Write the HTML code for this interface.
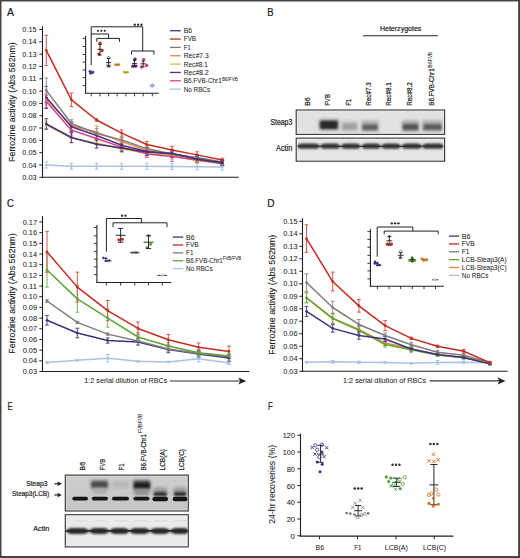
<!DOCTYPE html>
<html><head><meta charset="utf-8"><style>html,body{margin:0;padding:0;background:#fff;}svg{display:block}text{font-family:"Liberation Sans",sans-serif;stroke:#222;stroke-width:0.05px} .bd{stroke-width:0.22px} .md{stroke-width:0.12px}</style></head>
<body><svg width="520" height="558" viewBox="0 0 520 558">
<rect x="0" y="0" width="520" height="558" fill="#454545"/>
<rect x="1.5" y="1.5" width="516.6" height="554.5" fill="#ffffff"/>
<text x="7.1" y="15.85" font-size="10.8" fill="#222" textLength="7" lengthAdjust="spacingAndGlyphs" class="bd">A</text>
<text x="267.3" y="15.85" font-size="10.8" fill="#222" textLength="6.3" lengthAdjust="spacingAndGlyphs" class="bd">B</text>
<text x="7.1" y="206.8" font-size="10.8" fill="#222" textLength="6.9" lengthAdjust="spacingAndGlyphs" class="bd">C</text>
<text x="267.3" y="206.8" font-size="10.8" fill="#222" textLength="7.3" lengthAdjust="spacingAndGlyphs" class="bd">D</text>
<text x="7.6" y="410.4" font-size="10.8" fill="#222" textLength="5" lengthAdjust="spacingAndGlyphs" class="bd">E</text>
<text x="267.9" y="410.4" font-size="10.8" fill="#222" textLength="4.7" lengthAdjust="spacingAndGlyphs" class="bd">F</text>
<line x1="46.3" y1="161.9" x2="46.3" y2="168.06" stroke="#a9c3e6" stroke-width="1.0"/>
<line x1="44.4" y1="161.9" x2="48.2" y2="161.9" stroke="#a9c3e6" stroke-width="1.0"/>
<line x1="44.4" y1="168.06" x2="48.2" y2="168.06" stroke="#a9c3e6" stroke-width="1.0"/>
<line x1="71.43" y1="163.14" x2="71.43" y2="169.29" stroke="#a9c3e6" stroke-width="1.0"/>
<line x1="69.53" y1="163.14" x2="73.33" y2="163.14" stroke="#a9c3e6" stroke-width="1.0"/>
<line x1="69.53" y1="169.29" x2="73.33" y2="169.29" stroke="#a9c3e6" stroke-width="1.0"/>
<line x1="96.56" y1="163.14" x2="96.56" y2="169.29" stroke="#a9c3e6" stroke-width="1.0"/>
<line x1="94.66" y1="163.14" x2="98.46" y2="163.14" stroke="#a9c3e6" stroke-width="1.0"/>
<line x1="94.66" y1="169.29" x2="98.46" y2="169.29" stroke="#a9c3e6" stroke-width="1.0"/>
<line x1="121.69" y1="163.14" x2="121.69" y2="169.29" stroke="#a9c3e6" stroke-width="1.0"/>
<line x1="119.79" y1="163.14" x2="123.59" y2="163.14" stroke="#a9c3e6" stroke-width="1.0"/>
<line x1="119.79" y1="169.29" x2="123.59" y2="169.29" stroke="#a9c3e6" stroke-width="1.0"/>
<line x1="146.82" y1="163.14" x2="146.82" y2="169.29" stroke="#a9c3e6" stroke-width="1.0"/>
<line x1="144.92" y1="163.14" x2="148.72" y2="163.14" stroke="#a9c3e6" stroke-width="1.0"/>
<line x1="144.92" y1="169.29" x2="148.72" y2="169.29" stroke="#a9c3e6" stroke-width="1.0"/>
<line x1="171.95" y1="163.38" x2="171.95" y2="169.54" stroke="#a9c3e6" stroke-width="1.0"/>
<line x1="170.05" y1="163.38" x2="173.85" y2="163.38" stroke="#a9c3e6" stroke-width="1.0"/>
<line x1="170.05" y1="169.54" x2="173.85" y2="169.54" stroke="#a9c3e6" stroke-width="1.0"/>
<line x1="197.08" y1="163.63" x2="197.08" y2="169.79" stroke="#a9c3e6" stroke-width="1.0"/>
<line x1="195.18" y1="163.63" x2="198.98" y2="163.63" stroke="#a9c3e6" stroke-width="1.0"/>
<line x1="195.18" y1="169.79" x2="198.98" y2="169.79" stroke="#a9c3e6" stroke-width="1.0"/>
<line x1="222.21" y1="163.87" x2="222.21" y2="170.03" stroke="#a9c3e6" stroke-width="1.0"/>
<line x1="220.31" y1="163.87" x2="224.11" y2="163.87" stroke="#a9c3e6" stroke-width="1.0"/>
<line x1="220.31" y1="170.03" x2="224.11" y2="170.03" stroke="#a9c3e6" stroke-width="1.0"/>
<line x1="46.3" y1="121.26" x2="46.3" y2="128.65" stroke="#d8ca60" stroke-width="1.0"/>
<line x1="44.4" y1="121.26" x2="48.2" y2="121.26" stroke="#d8ca60" stroke-width="1.0"/>
<line x1="44.4" y1="128.65" x2="48.2" y2="128.65" stroke="#d8ca60" stroke-width="1.0"/>
<line x1="71.43" y1="133.21" x2="71.43" y2="143.06" stroke="#d8ca60" stroke-width="1.0"/>
<line x1="69.53" y1="133.21" x2="73.33" y2="133.21" stroke="#d8ca60" stroke-width="1.0"/>
<line x1="69.53" y1="143.06" x2="73.33" y2="143.06" stroke="#d8ca60" stroke-width="1.0"/>
<line x1="96.56" y1="138.13" x2="96.56" y2="147.99" stroke="#d8ca60" stroke-width="1.0"/>
<line x1="94.66" y1="138.13" x2="98.46" y2="138.13" stroke="#d8ca60" stroke-width="1.0"/>
<line x1="94.66" y1="147.99" x2="98.46" y2="147.99" stroke="#d8ca60" stroke-width="1.0"/>
<line x1="121.69" y1="145.28" x2="121.69" y2="152.67" stroke="#d8ca60" stroke-width="1.0"/>
<line x1="119.79" y1="145.28" x2="123.59" y2="145.28" stroke="#d8ca60" stroke-width="1.0"/>
<line x1="119.79" y1="152.67" x2="123.59" y2="152.67" stroke="#d8ca60" stroke-width="1.0"/>
<line x1="146.82" y1="150.82" x2="146.82" y2="155.75" stroke="#d8ca60" stroke-width="1.0"/>
<line x1="144.92" y1="150.82" x2="148.72" y2="150.82" stroke="#d8ca60" stroke-width="1.0"/>
<line x1="144.92" y1="155.75" x2="148.72" y2="155.75" stroke="#d8ca60" stroke-width="1.0"/>
<line x1="171.95" y1="151.68" x2="171.95" y2="159.07" stroke="#d8ca60" stroke-width="1.0"/>
<line x1="170.05" y1="151.68" x2="173.85" y2="151.68" stroke="#d8ca60" stroke-width="1.0"/>
<line x1="170.05" y1="159.07" x2="173.85" y2="159.07" stroke="#d8ca60" stroke-width="1.0"/>
<line x1="197.08" y1="158.21" x2="197.08" y2="163.14" stroke="#d8ca60" stroke-width="1.0"/>
<line x1="195.18" y1="158.21" x2="198.98" y2="158.21" stroke="#d8ca60" stroke-width="1.0"/>
<line x1="195.18" y1="163.14" x2="198.98" y2="163.14" stroke="#d8ca60" stroke-width="1.0"/>
<line x1="222.21" y1="161.29" x2="222.21" y2="166.21" stroke="#d8ca60" stroke-width="1.0"/>
<line x1="220.31" y1="161.29" x2="224.11" y2="161.29" stroke="#d8ca60" stroke-width="1.0"/>
<line x1="220.31" y1="166.21" x2="224.11" y2="166.21" stroke="#d8ca60" stroke-width="1.0"/>
<line x1="46.3" y1="95.39" x2="46.3" y2="107.71" stroke="#d868a0" stroke-width="1.0"/>
<line x1="44.4" y1="95.39" x2="48.2" y2="95.39" stroke="#d868a0" stroke-width="1.0"/>
<line x1="44.4" y1="107.71" x2="48.2" y2="107.71" stroke="#d868a0" stroke-width="1.0"/>
<line x1="71.43" y1="125.2" x2="71.43" y2="135.05" stroke="#d868a0" stroke-width="1.0"/>
<line x1="69.53" y1="125.2" x2="73.33" y2="125.2" stroke="#d868a0" stroke-width="1.0"/>
<line x1="69.53" y1="135.05" x2="73.33" y2="135.05" stroke="#d868a0" stroke-width="1.0"/>
<line x1="96.56" y1="133.57" x2="96.56" y2="143.43" stroke="#d868a0" stroke-width="1.0"/>
<line x1="94.66" y1="133.57" x2="98.46" y2="133.57" stroke="#d868a0" stroke-width="1.0"/>
<line x1="94.66" y1="143.43" x2="98.46" y2="143.43" stroke="#d868a0" stroke-width="1.0"/>
<line x1="121.69" y1="143.43" x2="121.69" y2="150.82" stroke="#d868a0" stroke-width="1.0"/>
<line x1="119.79" y1="143.43" x2="123.59" y2="143.43" stroke="#d868a0" stroke-width="1.0"/>
<line x1="119.79" y1="150.82" x2="123.59" y2="150.82" stroke="#d868a0" stroke-width="1.0"/>
<line x1="146.82" y1="150.2" x2="146.82" y2="157.59" stroke="#d868a0" stroke-width="1.0"/>
<line x1="144.92" y1="150.2" x2="148.72" y2="150.2" stroke="#d868a0" stroke-width="1.0"/>
<line x1="144.92" y1="157.59" x2="148.72" y2="157.59" stroke="#d868a0" stroke-width="1.0"/>
<line x1="171.95" y1="151.68" x2="171.95" y2="161.53" stroke="#d868a0" stroke-width="1.0"/>
<line x1="170.05" y1="151.68" x2="173.85" y2="151.68" stroke="#d868a0" stroke-width="1.0"/>
<line x1="170.05" y1="161.53" x2="173.85" y2="161.53" stroke="#d868a0" stroke-width="1.0"/>
<line x1="197.08" y1="157.59" x2="197.08" y2="162.52" stroke="#d868a0" stroke-width="1.0"/>
<line x1="195.18" y1="157.59" x2="198.98" y2="157.59" stroke="#d868a0" stroke-width="1.0"/>
<line x1="195.18" y1="162.52" x2="198.98" y2="162.52" stroke="#d868a0" stroke-width="1.0"/>
<line x1="222.21" y1="160.67" x2="222.21" y2="165.6" stroke="#d868a0" stroke-width="1.0"/>
<line x1="220.31" y1="160.67" x2="224.11" y2="160.67" stroke="#d868a0" stroke-width="1.0"/>
<line x1="220.31" y1="165.6" x2="224.11" y2="165.6" stroke="#d868a0" stroke-width="1.0"/>
<line x1="46.3" y1="94.16" x2="46.3" y2="104.01" stroke="#e4a060" stroke-width="1.0"/>
<line x1="44.4" y1="94.16" x2="48.2" y2="94.16" stroke="#e4a060" stroke-width="1.0"/>
<line x1="44.4" y1="104.01" x2="48.2" y2="104.01" stroke="#e4a060" stroke-width="1.0"/>
<line x1="71.43" y1="122.12" x2="71.43" y2="129.51" stroke="#e4a060" stroke-width="1.0"/>
<line x1="69.53" y1="122.12" x2="73.33" y2="122.12" stroke="#e4a060" stroke-width="1.0"/>
<line x1="69.53" y1="129.51" x2="73.33" y2="129.51" stroke="#e4a060" stroke-width="1.0"/>
<line x1="96.56" y1="125.94" x2="96.56" y2="138.26" stroke="#e4a060" stroke-width="1.0"/>
<line x1="94.66" y1="125.94" x2="98.46" y2="125.94" stroke="#e4a060" stroke-width="1.0"/>
<line x1="94.66" y1="138.26" x2="98.46" y2="138.26" stroke="#e4a060" stroke-width="1.0"/>
<line x1="121.69" y1="137.89" x2="121.69" y2="145.28" stroke="#e4a060" stroke-width="1.0"/>
<line x1="119.79" y1="137.89" x2="123.59" y2="137.89" stroke="#e4a060" stroke-width="1.0"/>
<line x1="119.79" y1="145.28" x2="123.59" y2="145.28" stroke="#e4a060" stroke-width="1.0"/>
<line x1="146.82" y1="147.74" x2="146.82" y2="152.67" stroke="#e4a060" stroke-width="1.0"/>
<line x1="144.92" y1="147.74" x2="148.72" y2="147.74" stroke="#e4a060" stroke-width="1.0"/>
<line x1="144.92" y1="152.67" x2="148.72" y2="152.67" stroke="#e4a060" stroke-width="1.0"/>
<line x1="171.95" y1="152.05" x2="171.95" y2="156.98" stroke="#e4a060" stroke-width="1.0"/>
<line x1="170.05" y1="152.05" x2="173.85" y2="152.05" stroke="#e4a060" stroke-width="1.0"/>
<line x1="170.05" y1="156.98" x2="173.85" y2="156.98" stroke="#e4a060" stroke-width="1.0"/>
<line x1="197.08" y1="156.36" x2="197.08" y2="161.29" stroke="#e4a060" stroke-width="1.0"/>
<line x1="195.18" y1="156.36" x2="198.98" y2="156.36" stroke="#e4a060" stroke-width="1.0"/>
<line x1="195.18" y1="161.29" x2="198.98" y2="161.29" stroke="#e4a060" stroke-width="1.0"/>
<line x1="222.21" y1="160.06" x2="222.21" y2="164.98" stroke="#e4a060" stroke-width="1.0"/>
<line x1="220.31" y1="160.06" x2="224.11" y2="160.06" stroke="#e4a060" stroke-width="1.0"/>
<line x1="220.31" y1="164.98" x2="224.11" y2="164.98" stroke="#e4a060" stroke-width="1.0"/>
<line x1="46.3" y1="86.4" x2="46.3" y2="108.57" stroke="#7048a0" stroke-width="1.0"/>
<line x1="44.4" y1="86.4" x2="48.2" y2="86.4" stroke="#7048a0" stroke-width="1.0"/>
<line x1="44.4" y1="108.57" x2="48.2" y2="108.57" stroke="#7048a0" stroke-width="1.0"/>
<line x1="71.43" y1="121.75" x2="71.43" y2="131.6" stroke="#7048a0" stroke-width="1.0"/>
<line x1="69.53" y1="121.75" x2="73.33" y2="121.75" stroke="#7048a0" stroke-width="1.0"/>
<line x1="69.53" y1="131.6" x2="73.33" y2="131.6" stroke="#7048a0" stroke-width="1.0"/>
<line x1="96.56" y1="131.85" x2="96.56" y2="139.24" stroke="#7048a0" stroke-width="1.0"/>
<line x1="94.66" y1="131.85" x2="98.46" y2="131.85" stroke="#7048a0" stroke-width="1.0"/>
<line x1="94.66" y1="139.24" x2="98.46" y2="139.24" stroke="#7048a0" stroke-width="1.0"/>
<line x1="121.69" y1="141.58" x2="121.69" y2="148.97" stroke="#7048a0" stroke-width="1.0"/>
<line x1="119.79" y1="141.58" x2="123.59" y2="141.58" stroke="#7048a0" stroke-width="1.0"/>
<line x1="119.79" y1="148.97" x2="123.59" y2="148.97" stroke="#7048a0" stroke-width="1.0"/>
<line x1="146.82" y1="147.74" x2="146.82" y2="155.13" stroke="#7048a0" stroke-width="1.0"/>
<line x1="144.92" y1="147.74" x2="148.72" y2="147.74" stroke="#7048a0" stroke-width="1.0"/>
<line x1="144.92" y1="155.13" x2="148.72" y2="155.13" stroke="#7048a0" stroke-width="1.0"/>
<line x1="171.95" y1="150.2" x2="171.95" y2="157.59" stroke="#7048a0" stroke-width="1.0"/>
<line x1="170.05" y1="150.2" x2="173.85" y2="150.2" stroke="#7048a0" stroke-width="1.0"/>
<line x1="170.05" y1="157.59" x2="173.85" y2="157.59" stroke="#7048a0" stroke-width="1.0"/>
<line x1="197.08" y1="155.75" x2="197.08" y2="160.67" stroke="#7048a0" stroke-width="1.0"/>
<line x1="195.18" y1="155.75" x2="198.98" y2="155.75" stroke="#7048a0" stroke-width="1.0"/>
<line x1="195.18" y1="160.67" x2="198.98" y2="160.67" stroke="#7048a0" stroke-width="1.0"/>
<line x1="222.21" y1="160.67" x2="222.21" y2="165.6" stroke="#7048a0" stroke-width="1.0"/>
<line x1="220.31" y1="160.67" x2="224.11" y2="160.67" stroke="#7048a0" stroke-width="1.0"/>
<line x1="220.31" y1="165.6" x2="224.11" y2="165.6" stroke="#7048a0" stroke-width="1.0"/>
<line x1="46.3" y1="78.02" x2="46.3" y2="102.66" stroke="#909090" stroke-width="1.0"/>
<line x1="44.4" y1="78.02" x2="48.2" y2="78.02" stroke="#909090" stroke-width="1.0"/>
<line x1="44.4" y1="102.66" x2="48.2" y2="102.66" stroke="#909090" stroke-width="1.0"/>
<line x1="71.43" y1="119.78" x2="71.43" y2="127.17" stroke="#909090" stroke-width="1.0"/>
<line x1="69.53" y1="119.78" x2="73.33" y2="119.78" stroke="#909090" stroke-width="1.0"/>
<line x1="69.53" y1="127.17" x2="73.33" y2="127.17" stroke="#909090" stroke-width="1.0"/>
<line x1="96.56" y1="128.65" x2="96.56" y2="138.5" stroke="#909090" stroke-width="1.0"/>
<line x1="94.66" y1="128.65" x2="98.46" y2="128.65" stroke="#909090" stroke-width="1.0"/>
<line x1="94.66" y1="138.5" x2="98.46" y2="138.5" stroke="#909090" stroke-width="1.0"/>
<line x1="121.69" y1="137.39" x2="121.69" y2="142.32" stroke="#909090" stroke-width="1.0"/>
<line x1="119.79" y1="137.39" x2="123.59" y2="137.39" stroke="#909090" stroke-width="1.0"/>
<line x1="119.79" y1="142.32" x2="123.59" y2="142.32" stroke="#909090" stroke-width="1.0"/>
<line x1="146.82" y1="146.14" x2="146.82" y2="151.06" stroke="#909090" stroke-width="1.0"/>
<line x1="144.92" y1="146.14" x2="148.72" y2="146.14" stroke="#909090" stroke-width="1.0"/>
<line x1="144.92" y1="151.06" x2="148.72" y2="151.06" stroke="#909090" stroke-width="1.0"/>
<line x1="171.95" y1="151.43" x2="171.95" y2="156.36" stroke="#909090" stroke-width="1.0"/>
<line x1="170.05" y1="151.43" x2="173.85" y2="151.43" stroke="#909090" stroke-width="1.0"/>
<line x1="170.05" y1="156.36" x2="173.85" y2="156.36" stroke="#909090" stroke-width="1.0"/>
<line x1="197.08" y1="155.13" x2="197.08" y2="160.06" stroke="#909090" stroke-width="1.0"/>
<line x1="195.18" y1="155.13" x2="198.98" y2="155.13" stroke="#909090" stroke-width="1.0"/>
<line x1="195.18" y1="160.06" x2="198.98" y2="160.06" stroke="#909090" stroke-width="1.0"/>
<line x1="222.21" y1="159.44" x2="222.21" y2="164.37" stroke="#909090" stroke-width="1.0"/>
<line x1="220.31" y1="159.44" x2="224.11" y2="159.44" stroke="#909090" stroke-width="1.0"/>
<line x1="220.31" y1="164.37" x2="224.11" y2="164.37" stroke="#909090" stroke-width="1.0"/>
<line x1="46.3" y1="118.67" x2="46.3" y2="129.26" stroke="#54468e" stroke-width="1.0"/>
<line x1="44.4" y1="118.67" x2="48.2" y2="118.67" stroke="#54468e" stroke-width="1.0"/>
<line x1="44.4" y1="129.26" x2="48.2" y2="129.26" stroke="#54468e" stroke-width="1.0"/>
<line x1="71.43" y1="132.59" x2="71.43" y2="142.44" stroke="#54468e" stroke-width="1.0"/>
<line x1="69.53" y1="132.59" x2="73.33" y2="132.59" stroke="#54468e" stroke-width="1.0"/>
<line x1="69.53" y1="142.44" x2="73.33" y2="142.44" stroke="#54468e" stroke-width="1.0"/>
<line x1="96.56" y1="140.6" x2="96.56" y2="147.99" stroke="#54468e" stroke-width="1.0"/>
<line x1="94.66" y1="140.6" x2="98.46" y2="140.6" stroke="#54468e" stroke-width="1.0"/>
<line x1="94.66" y1="147.99" x2="98.46" y2="147.99" stroke="#54468e" stroke-width="1.0"/>
<line x1="121.69" y1="144.29" x2="121.69" y2="151.68" stroke="#54468e" stroke-width="1.0"/>
<line x1="119.79" y1="144.29" x2="123.59" y2="144.29" stroke="#54468e" stroke-width="1.0"/>
<line x1="119.79" y1="151.68" x2="123.59" y2="151.68" stroke="#54468e" stroke-width="1.0"/>
<line x1="146.82" y1="148.23" x2="146.82" y2="155.62" stroke="#54468e" stroke-width="1.0"/>
<line x1="144.92" y1="148.23" x2="148.72" y2="148.23" stroke="#54468e" stroke-width="1.0"/>
<line x1="144.92" y1="155.62" x2="148.72" y2="155.62" stroke="#54468e" stroke-width="1.0"/>
<line x1="171.95" y1="149.59" x2="171.95" y2="156.98" stroke="#54468e" stroke-width="1.0"/>
<line x1="170.05" y1="149.59" x2="173.85" y2="149.59" stroke="#54468e" stroke-width="1.0"/>
<line x1="170.05" y1="156.98" x2="173.85" y2="156.98" stroke="#54468e" stroke-width="1.0"/>
<line x1="197.08" y1="156.85" x2="197.08" y2="161.78" stroke="#54468e" stroke-width="1.0"/>
<line x1="195.18" y1="156.85" x2="198.98" y2="156.85" stroke="#54468e" stroke-width="1.0"/>
<line x1="195.18" y1="161.78" x2="198.98" y2="161.78" stroke="#54468e" stroke-width="1.0"/>
<line x1="222.21" y1="159.93" x2="222.21" y2="164.86" stroke="#54468e" stroke-width="1.0"/>
<line x1="220.31" y1="159.93" x2="224.11" y2="159.93" stroke="#54468e" stroke-width="1.0"/>
<line x1="220.31" y1="164.86" x2="224.11" y2="164.86" stroke="#54468e" stroke-width="1.0"/>
<line x1="46.3" y1="35.28" x2="46.3" y2="65.58" stroke="#d05a50" stroke-width="1.0"/>
<line x1="44.4" y1="35.28" x2="48.2" y2="35.28" stroke="#d05a50" stroke-width="1.0"/>
<line x1="44.4" y1="65.58" x2="48.2" y2="65.58" stroke="#d05a50" stroke-width="1.0"/>
<line x1="71.43" y1="93.05" x2="71.43" y2="106.6" stroke="#d05a50" stroke-width="1.0"/>
<line x1="69.53" y1="93.05" x2="73.33" y2="93.05" stroke="#d05a50" stroke-width="1.0"/>
<line x1="69.53" y1="106.6" x2="73.33" y2="106.6" stroke="#d05a50" stroke-width="1.0"/>
<line x1="96.56" y1="118.79" x2="96.56" y2="121.26" stroke="#d05a50" stroke-width="1.0"/>
<line x1="94.66" y1="118.79" x2="98.46" y2="118.79" stroke="#d05a50" stroke-width="1.0"/>
<line x1="94.66" y1="121.26" x2="98.46" y2="121.26" stroke="#d05a50" stroke-width="1.0"/>
<line x1="121.69" y1="130" x2="121.69" y2="136.16" stroke="#d05a50" stroke-width="1.0"/>
<line x1="119.79" y1="130" x2="123.59" y2="130" stroke="#d05a50" stroke-width="1.0"/>
<line x1="119.79" y1="136.16" x2="123.59" y2="136.16" stroke="#d05a50" stroke-width="1.0"/>
<line x1="146.82" y1="141.46" x2="146.82" y2="147.62" stroke="#d05a50" stroke-width="1.0"/>
<line x1="144.92" y1="141.46" x2="148.72" y2="141.46" stroke="#d05a50" stroke-width="1.0"/>
<line x1="144.92" y1="147.62" x2="148.72" y2="147.62" stroke="#d05a50" stroke-width="1.0"/>
<line x1="171.95" y1="146.26" x2="171.95" y2="153.65" stroke="#d05a50" stroke-width="1.0"/>
<line x1="170.05" y1="146.26" x2="173.85" y2="146.26" stroke="#d05a50" stroke-width="1.0"/>
<line x1="170.05" y1="153.65" x2="173.85" y2="153.65" stroke="#d05a50" stroke-width="1.0"/>
<line x1="197.08" y1="151.8" x2="197.08" y2="157.96" stroke="#d05a50" stroke-width="1.0"/>
<line x1="195.18" y1="151.8" x2="198.98" y2="151.8" stroke="#d05a50" stroke-width="1.0"/>
<line x1="195.18" y1="157.96" x2="198.98" y2="157.96" stroke="#d05a50" stroke-width="1.0"/>
<line x1="222.21" y1="158.21" x2="222.21" y2="161.9" stroke="#d05a50" stroke-width="1.0"/>
<line x1="220.31" y1="158.21" x2="224.11" y2="158.21" stroke="#d05a50" stroke-width="1.0"/>
<line x1="220.31" y1="161.9" x2="224.11" y2="161.9" stroke="#d05a50" stroke-width="1.0"/>
<polyline fill="none" stroke="#a9c3e6" stroke-width="1.5" stroke-linejoin="round" points="46.3,164.98 71.43,166.21 96.56,166.21 121.69,166.21 146.82,166.21 171.95,166.46 197.08,166.71 222.21,166.95"/>
<circle cx="46.3" cy="164.98" r="1.35" fill="#a9c3e6"/>
<circle cx="71.43" cy="166.21" r="1.35" fill="#a9c3e6"/>
<circle cx="96.56" cy="166.21" r="1.35" fill="#a9c3e6"/>
<circle cx="121.69" cy="166.21" r="1.35" fill="#a9c3e6"/>
<circle cx="146.82" cy="166.21" r="1.35" fill="#a9c3e6"/>
<circle cx="171.95" cy="166.46" r="1.35" fill="#a9c3e6"/>
<circle cx="197.08" cy="166.71" r="1.35" fill="#a9c3e6"/>
<circle cx="222.21" cy="166.95" r="1.35" fill="#a9c3e6"/>
<polyline fill="none" stroke="#d2c240" stroke-width="1.5" stroke-linejoin="round" points="46.3,124.95 71.43,138.13 96.56,143.06 121.69,148.97 146.82,153.28 171.95,155.38 197.08,160.67 222.21,163.75"/>
<circle cx="46.3" cy="124.95" r="1.35" fill="#d2c240"/>
<circle cx="71.43" cy="138.13" r="1.35" fill="#d2c240"/>
<circle cx="96.56" cy="143.06" r="1.35" fill="#d2c240"/>
<circle cx="121.69" cy="148.97" r="1.35" fill="#d2c240"/>
<circle cx="146.82" cy="153.28" r="1.35" fill="#d2c240"/>
<circle cx="171.95" cy="155.38" r="1.35" fill="#d2c240"/>
<circle cx="197.08" cy="160.67" r="1.35" fill="#d2c240"/>
<circle cx="222.21" cy="163.75" r="1.35" fill="#d2c240"/>
<polyline fill="none" stroke="#d2428a" stroke-width="1.5" stroke-linejoin="round" points="46.3,101.55 71.43,130.13 96.56,138.5 121.69,147.12 146.82,153.9 171.95,156.61 197.08,160.06 222.21,163.14"/>
<circle cx="46.3" cy="101.55" r="1.35" fill="#d2428a"/>
<circle cx="71.43" cy="130.13" r="1.35" fill="#d2428a"/>
<circle cx="96.56" cy="138.5" r="1.35" fill="#d2428a"/>
<circle cx="121.69" cy="147.12" r="1.35" fill="#d2428a"/>
<circle cx="146.82" cy="153.9" r="1.35" fill="#d2428a"/>
<circle cx="171.95" cy="156.61" r="1.35" fill="#d2428a"/>
<circle cx="197.08" cy="160.06" r="1.35" fill="#d2428a"/>
<circle cx="222.21" cy="163.14" r="1.35" fill="#d2428a"/>
<polyline fill="none" stroke="#e08c3c" stroke-width="1.5" stroke-linejoin="round" points="46.3,99.09 71.43,125.81 96.56,132.1 121.69,141.58 146.82,150.2 171.95,154.51 197.08,158.82 222.21,162.52"/>
<circle cx="46.3" cy="99.09" r="1.35" fill="#e08c3c"/>
<circle cx="71.43" cy="125.81" r="1.35" fill="#e08c3c"/>
<circle cx="96.56" cy="132.1" r="1.35" fill="#e08c3c"/>
<circle cx="121.69" cy="141.58" r="1.35" fill="#e08c3c"/>
<circle cx="146.82" cy="150.2" r="1.35" fill="#e08c3c"/>
<circle cx="171.95" cy="154.51" r="1.35" fill="#e08c3c"/>
<circle cx="197.08" cy="158.82" r="1.35" fill="#e08c3c"/>
<circle cx="222.21" cy="162.52" r="1.35" fill="#e08c3c"/>
<polyline fill="none" stroke="#5c2c82" stroke-width="1.5" stroke-linejoin="round" points="46.3,97.49 71.43,126.68 96.56,135.55 121.69,145.28 146.82,151.43 171.95,153.9 197.08,158.21 222.21,163.14"/>
<circle cx="46.3" cy="97.49" r="1.35" fill="#5c2c82"/>
<circle cx="71.43" cy="126.68" r="1.35" fill="#5c2c82"/>
<circle cx="96.56" cy="135.55" r="1.35" fill="#5c2c82"/>
<circle cx="121.69" cy="145.28" r="1.35" fill="#5c2c82"/>
<circle cx="146.82" cy="151.43" r="1.35" fill="#5c2c82"/>
<circle cx="171.95" cy="153.9" r="1.35" fill="#5c2c82"/>
<circle cx="197.08" cy="158.21" r="1.35" fill="#5c2c82"/>
<circle cx="222.21" cy="163.14" r="1.35" fill="#5c2c82"/>
<polyline fill="none" stroke="#7d7d7d" stroke-width="1.5" stroke-linejoin="round" points="46.3,90.34 71.43,123.47 96.56,133.57 121.69,139.86 146.82,148.6 171.95,153.9 197.08,157.59 222.21,161.9"/>
<circle cx="46.3" cy="90.34" r="1.35" fill="#7d7d7d"/>
<circle cx="71.43" cy="123.47" r="1.35" fill="#7d7d7d"/>
<circle cx="96.56" cy="133.57" r="1.35" fill="#7d7d7d"/>
<circle cx="121.69" cy="139.86" r="1.35" fill="#7d7d7d"/>
<circle cx="146.82" cy="148.6" r="1.35" fill="#7d7d7d"/>
<circle cx="171.95" cy="153.9" r="1.35" fill="#7d7d7d"/>
<circle cx="197.08" cy="157.59" r="1.35" fill="#7d7d7d"/>
<circle cx="222.21" cy="161.9" r="1.35" fill="#7d7d7d"/>
<polyline fill="none" stroke="#42327e" stroke-width="1.5" stroke-linejoin="round" points="46.3,123.97 71.43,137.52 96.56,144.29 121.69,147.99 146.82,151.93 171.95,153.28 197.08,159.32 222.21,162.4"/>
<circle cx="46.3" cy="123.97" r="1.35" fill="#42327e"/>
<circle cx="71.43" cy="137.52" r="1.35" fill="#42327e"/>
<circle cx="96.56" cy="144.29" r="1.35" fill="#42327e"/>
<circle cx="121.69" cy="147.99" r="1.35" fill="#42327e"/>
<circle cx="146.82" cy="151.93" r="1.35" fill="#42327e"/>
<circle cx="171.95" cy="153.28" r="1.35" fill="#42327e"/>
<circle cx="197.08" cy="159.32" r="1.35" fill="#42327e"/>
<circle cx="222.21" cy="162.4" r="1.35" fill="#42327e"/>
<polyline fill="none" stroke="#c42c20" stroke-width="1.5" stroke-linejoin="round" points="46.3,50.43 71.43,99.83 96.56,120.03 121.69,133.08 146.82,144.54 171.95,149.96 197.08,154.88 222.21,160.06"/>
<circle cx="46.3" cy="50.43" r="1.35" fill="#c42c20"/>
<circle cx="71.43" cy="99.83" r="1.35" fill="#c42c20"/>
<circle cx="96.56" cy="120.03" r="1.35" fill="#c42c20"/>
<circle cx="121.69" cy="133.08" r="1.35" fill="#c42c20"/>
<circle cx="146.82" cy="144.54" r="1.35" fill="#c42c20"/>
<circle cx="171.95" cy="149.96" r="1.35" fill="#c42c20"/>
<circle cx="197.08" cy="154.88" r="1.35" fill="#c42c20"/>
<circle cx="222.21" cy="160.06" r="1.35" fill="#c42c20"/>
<line x1="42.5" y1="26.3" x2="42.5" y2="177.85" stroke="#1e1e1e" stroke-width="1.1"/>
<line x1="41.95" y1="177.3" x2="238.8" y2="177.3" stroke="#1e1e1e" stroke-width="1.1"/>
<line x1="39.3" y1="177.3" x2="42.5" y2="177.3" stroke="#222" stroke-width="1"/>
<text x="36.6" y="179.9" font-size="7.9" fill="#222" text-anchor="end" textLength="14.3" lengthAdjust="spacingAndGlyphs">0.03</text>
<line x1="39.3" y1="164.98" x2="42.5" y2="164.98" stroke="#222" stroke-width="1"/>
<text x="36.6" y="167.58" font-size="7.9" fill="#222" text-anchor="end" textLength="14.3" lengthAdjust="spacingAndGlyphs">0.04</text>
<line x1="39.3" y1="152.67" x2="42.5" y2="152.67" stroke="#222" stroke-width="1"/>
<text x="36.6" y="155.27" font-size="7.9" fill="#222" text-anchor="end" textLength="14.3" lengthAdjust="spacingAndGlyphs">0.05</text>
<line x1="39.3" y1="140.35" x2="42.5" y2="140.35" stroke="#222" stroke-width="1"/>
<text x="36.6" y="142.95" font-size="7.9" fill="#222" text-anchor="end" textLength="14.3" lengthAdjust="spacingAndGlyphs">0.06</text>
<line x1="39.3" y1="128.03" x2="42.5" y2="128.03" stroke="#222" stroke-width="1"/>
<text x="36.6" y="130.63" font-size="7.9" fill="#222" text-anchor="end" textLength="14.3" lengthAdjust="spacingAndGlyphs">0.07</text>
<line x1="39.3" y1="115.72" x2="42.5" y2="115.72" stroke="#222" stroke-width="1"/>
<text x="36.6" y="118.31" font-size="7.9" fill="#222" text-anchor="end" textLength="14.3" lengthAdjust="spacingAndGlyphs">0.08</text>
<line x1="39.3" y1="103.4" x2="42.5" y2="103.4" stroke="#222" stroke-width="1"/>
<text x="36.6" y="106" font-size="7.9" fill="#222" text-anchor="end" textLength="14.3" lengthAdjust="spacingAndGlyphs">0.09</text>
<line x1="39.3" y1="91.08" x2="42.5" y2="91.08" stroke="#222" stroke-width="1"/>
<text x="36.6" y="93.68" font-size="7.9" fill="#222" text-anchor="end" textLength="14.3" lengthAdjust="spacingAndGlyphs">0.10</text>
<line x1="39.3" y1="78.76" x2="42.5" y2="78.76" stroke="#222" stroke-width="1"/>
<text x="36.6" y="81.36" font-size="7.9" fill="#222" text-anchor="end" textLength="14.3" lengthAdjust="spacingAndGlyphs">0.11</text>
<line x1="39.3" y1="66.45" x2="42.5" y2="66.45" stroke="#222" stroke-width="1"/>
<text x="36.6" y="69.05" font-size="7.9" fill="#222" text-anchor="end" textLength="14.3" lengthAdjust="spacingAndGlyphs">0.12</text>
<line x1="39.3" y1="54.13" x2="42.5" y2="54.13" stroke="#222" stroke-width="1"/>
<text x="36.6" y="56.73" font-size="7.9" fill="#222" text-anchor="end" textLength="14.3" lengthAdjust="spacingAndGlyphs">0.13</text>
<line x1="39.3" y1="41.81" x2="42.5" y2="41.81" stroke="#222" stroke-width="1"/>
<text x="36.6" y="44.41" font-size="7.9" fill="#222" text-anchor="end" textLength="14.3" lengthAdjust="spacingAndGlyphs">0.14</text>
<line x1="39.3" y1="29.5" x2="42.5" y2="29.5" stroke="#222" stroke-width="1"/>
<text x="36.6" y="32.1" font-size="7.9" fill="#222" text-anchor="end" textLength="14.3" lengthAdjust="spacingAndGlyphs">0.15</text>
<text x="15.1" y="102.05" font-size="9.4" fill="#222" text-anchor="middle" textLength="119.7" lengthAdjust="spacingAndGlyphs" transform="rotate(-90 15.1 102.05)" class="md">Ferrozine activity (Abs 562nm)</text>
<line x1="85.6" y1="35.8" x2="85.6" y2="93.8" stroke="#222" stroke-width="1.1"/>
<line x1="85.1" y1="93.3" x2="158.7" y2="93.3" stroke="#222" stroke-width="1.1"/>
<line x1="82.6" y1="38.4" x2="85.6" y2="38.4" stroke="#222" stroke-width="0.9"/>
<line x1="82.6" y1="46.5" x2="85.6" y2="46.5" stroke="#222" stroke-width="0.9"/>
<line x1="82.6" y1="54.5" x2="85.6" y2="54.5" stroke="#222" stroke-width="0.9"/>
<line x1="82.6" y1="62.1" x2="85.6" y2="62.1" stroke="#222" stroke-width="0.9"/>
<line x1="82.6" y1="70" x2="85.6" y2="70" stroke="#222" stroke-width="0.9"/>
<line x1="82.6" y1="77.6" x2="85.6" y2="77.6" stroke="#222" stroke-width="0.9"/>
<line x1="82.6" y1="85.6" x2="85.6" y2="85.6" stroke="#222" stroke-width="0.9"/>
<line x1="91.2" y1="93.3" x2="91.2" y2="96.3" stroke="#222" stroke-width="0.9"/>
<line x1="99.9" y1="93.3" x2="99.9" y2="96.3" stroke="#222" stroke-width="0.9"/>
<line x1="108.6" y1="93.3" x2="108.6" y2="96.3" stroke="#222" stroke-width="0.9"/>
<line x1="117.2" y1="93.3" x2="117.2" y2="96.3" stroke="#222" stroke-width="0.9"/>
<line x1="125.9" y1="93.3" x2="125.9" y2="96.3" stroke="#222" stroke-width="0.9"/>
<line x1="134.5" y1="93.3" x2="134.5" y2="96.3" stroke="#222" stroke-width="0.9"/>
<line x1="143.2" y1="93.3" x2="143.2" y2="96.3" stroke="#222" stroke-width="0.9"/>
<line x1="152.3" y1="93.3" x2="152.3" y2="96.3" stroke="#222" stroke-width="0.9"/>
<polyline fill="none" stroke="#222" stroke-width="1" points="91.2,65.2 91.2,26.8 142.7,26.8 142.7,51"/>
<polyline fill="none" stroke="#222" stroke-width="1" points="131.6,54.5 131.6,51 154,51 154,54.5"/>
<polyline fill="none" stroke="#222" stroke-width="1" points="91.2,34 108.6,34 108.6,38.4"/>
<polyline fill="none" stroke="#222" stroke-width="1" points="96.8,41.8 96.8,38.4 119.5,38.4 119.5,41.8"/>
<circle cx="134.75" cy="24.8" r="1.2" fill="#333"/>
<circle cx="138.1" cy="24.8" r="1.2" fill="#333"/>
<circle cx="141.45" cy="24.8" r="1.2" fill="#333"/>
<circle cx="98" cy="30.8" r="1.1" fill="#333"/>
<circle cx="101.4" cy="30.8" r="1.1" fill="#333"/>
<circle cx="104.8" cy="30.8" r="1.1" fill="#333"/>
<circle cx="89.9" cy="71.3" r="1.35" fill="#5246a0"/>
<circle cx="92.1" cy="73" r="1.35" fill="#5246a0"/>
<circle cx="93.1" cy="72.1" r="1.35" fill="#5246a0"/>
<circle cx="90.6" cy="73.5" r="1.35" fill="#5246a0"/>
<circle cx="91.4" cy="72.2" r="1.35" fill="#5246a0"/>
<line x1="89" y1="72.3" x2="93.6" y2="72.3" stroke="#3a3070" stroke-width="0.8"/>
<circle cx="100.1" cy="43.2" r="1.65" fill="#c42c20"/>
<circle cx="98.8" cy="54.1" r="1.65" fill="#c42c20"/>
<circle cx="102.1" cy="50.6" r="1.65" fill="#c42c20"/>
<line x1="100" y1="44.5" x2="100" y2="55" stroke="#222" stroke-width="0.95"/>
<line x1="98.3" y1="44.5" x2="101.7" y2="44.5" stroke="#222" stroke-width="0.95"/>
<line x1="98.3" y1="55" x2="101.7" y2="55" stroke="#222" stroke-width="0.95"/>
<line x1="97.5" y1="49.3" x2="102.5" y2="49.3" stroke="#222" stroke-width="0.95"/>
<path d="M106.9,58.2 L108.6,56 L110.3,58.2" fill="none" stroke="#555" stroke-width="0.8"/>
<circle cx="107.4" cy="65.5" r="1.1" fill="#666"/>
<circle cx="109.8" cy="65.8" r="1.1" fill="#666"/>
<line x1="108.6" y1="58.5" x2="108.6" y2="66.8" stroke="#222" stroke-width="0.95"/>
<line x1="106.8" y1="58.5" x2="110.4" y2="58.5" stroke="#222" stroke-width="0.95"/>
<line x1="106.8" y1="66.8" x2="110.4" y2="66.8" stroke="#222" stroke-width="0.95"/>
<line x1="106" y1="62.6" x2="111.2" y2="62.6" stroke="#222" stroke-width="0.95"/>
<circle cx="115.6" cy="64.58" r="1.4" fill="#e08c3c"/>
<circle cx="117.2" cy="64.9" r="1.4" fill="#e08c3c"/>
<circle cx="118.8" cy="64.58" r="1.4" fill="#e08c3c"/>
<line x1="114.5" y1="64.6" x2="120" y2="64.6" stroke="#b06a20" stroke-width="0.8"/>
<circle cx="124.3" cy="72.12" r="1.4" fill="#d2c240"/>
<circle cx="125.9" cy="72.6" r="1.4" fill="#d2c240"/>
<circle cx="127.5" cy="72.12" r="1.4" fill="#d2c240"/>
<line x1="123" y1="72.3" x2="128.8" y2="72.3" stroke="#a09020" stroke-width="0.8"/>
<circle cx="135" cy="59.2" r="1.7" fill="#5c2c82"/>
<circle cx="132.9" cy="66.2" r="1.7" fill="#5c2c82"/>
<circle cx="135.9" cy="66.1" r="1.7" fill="#5c2c82"/>
<line x1="134.5" y1="60.3" x2="134.5" y2="66.6" stroke="#222" stroke-width="0.95"/>
<line x1="133" y1="60.3" x2="136" y2="60.3" stroke="#222" stroke-width="0.95"/>
<line x1="133" y1="66.6" x2="136" y2="66.6" stroke="#222" stroke-width="0.95"/>
<line x1="131.9" y1="63.6" x2="137.1" y2="63.6" stroke="#222" stroke-width="0.95"/>
<circle cx="143.7" cy="59.6" r="1.75" fill="#d2428a"/>
<circle cx="141.5" cy="66.9" r="1.75" fill="#d2428a"/>
<circle cx="146.6" cy="65.5" r="1.75" fill="#d2428a"/>
<line x1="143.2" y1="61" x2="143.2" y2="66.8" stroke="#222" stroke-width="0.95"/>
<line x1="141.7" y1="61" x2="144.7" y2="61" stroke="#222" stroke-width="0.95"/>
<line x1="141.7" y1="66.8" x2="144.7" y2="66.8" stroke="#222" stroke-width="0.95"/>
<line x1="140.6" y1="63.8" x2="145.8" y2="63.8" stroke="#222" stroke-width="0.95"/>
<path d="M152.3,83.3 L154.6,85.6 L152.3,87.9 L150,85.6 Z" fill="#a9c3e6" stroke="#8aaad6" stroke-width="0.5"/>
<line x1="149.8" y1="85.6" x2="154.8" y2="85.6" stroke="#6a8cc0" stroke-width="0.7"/>
<line x1="170" y1="30.7" x2="180.8" y2="30.7" stroke="#42327e" stroke-width="1.3"/>
<text x="183.8" y="33.1" font-size="7" fill="#222" textLength="8.2" lengthAdjust="spacingAndGlyphs">B6</text>
<line x1="170" y1="39.05" x2="180.8" y2="39.05" stroke="#c42c20" stroke-width="1.3"/>
<text x="183.8" y="41.45" font-size="7" fill="#222" textLength="12.2" lengthAdjust="spacingAndGlyphs">FVB</text>
<line x1="170" y1="47.4" x2="180.8" y2="47.4" stroke="#7d7d7d" stroke-width="1.3"/>
<text x="183.8" y="49.8" font-size="7" fill="#222" textLength="7" lengthAdjust="spacingAndGlyphs">F1</text>
<line x1="170" y1="55.75" x2="180.8" y2="55.75" stroke="#e08c3c" stroke-width="1.3"/>
<text x="183.8" y="58.15" font-size="7" fill="#222" textLength="24.8" lengthAdjust="spacingAndGlyphs">Rec#7.3</text>
<line x1="170" y1="64.1" x2="180.8" y2="64.1" stroke="#d2c240" stroke-width="1.3"/>
<text x="183.8" y="66.5" font-size="7" fill="#222" textLength="24" lengthAdjust="spacingAndGlyphs">Rec#8.1</text>
<line x1="170" y1="72.45" x2="180.8" y2="72.45" stroke="#5c2c82" stroke-width="1.3"/>
<text x="183.8" y="74.85" font-size="7" fill="#222" textLength="24.8" lengthAdjust="spacingAndGlyphs">Rec#8.2</text>
<line x1="170" y1="80.8" x2="180.8" y2="80.8" stroke="#d2428a" stroke-width="1.3"/>
<text x="183.8" y="83.2" font-size="7" fill="#222" textLength="37.9" lengthAdjust="spacingAndGlyphs">B6.FVB-Chr1</text>
<text x="221.9" y="80.9" font-size="5" fill="#222" textLength="15.9" lengthAdjust="spacingAndGlyphs">B6/FVB</text>
<line x1="170" y1="89.15" x2="180.8" y2="89.15" stroke="#a9c3e6" stroke-width="1.3"/>
<text x="183.8" y="91.55" font-size="7" fill="#222" textLength="26.3" lengthAdjust="spacingAndGlyphs">No RBCs</text>
<defs><filter id="b1" x="-50%" y="-100%" width="200%" height="300%"><feGaussianBlur stdDeviation="1"/></filter><filter id="b2" x="-50%" y="-100%" width="200%" height="300%"><feGaussianBlur stdDeviation="1.6"/></filter><filter id="b075" x="-50%" y="-100%" width="200%" height="300%"><feGaussianBlur stdDeviation="0.8"/></filter><filter id="b05" x="-50%" y="-100%" width="200%" height="300%"><feGaussianBlur stdDeviation="0.6"/></filter><linearGradient id="gE1" x1="0" y1="0" x2="0" y2="1"><stop offset="0" stop-color="#cfcdcf"/><stop offset="1" stop-color="#c6c4c6"/></linearGradient></defs>
<rect x="296.2" y="110" width="148.4" height="24.4" fill="#e2e2e2" stroke="#3a3a3a" stroke-width="1.15"/>
<rect x="297.3" y="111.1" width="146.2" height="22.2" fill="none" stroke="#f4f4f4" stroke-width="0.7" opacity="0.4"/>
<clipPath id="cB1"><rect x="297.5" y="111.3" width="145.8" height="21.8"/></clipPath>
<g clip-path="url(#cB1)">
<rect x="318.5" y="118.8" width="21" height="12" rx="2.5" fill="#a8a8a8" filter="url(#b2)"/>
<rect x="320" y="120.7" width="17.8" height="8.2" rx="1.8" fill="#2a2a2a" filter="url(#b1)"/>
<rect x="341" y="120.8" width="17" height="11" rx="2" fill="#c2c2c2" filter="url(#b2)"/>
<rect x="342.5" y="123.85" width="14" height="5.5" rx="1.5" fill="#9e9e9e" filter="url(#b1)"/>
<rect x="361" y="120.3" width="18" height="12" rx="2" fill="#b0b0b0" filter="url(#b2)"/>
<rect x="362.5" y="124.45" width="15" height="5.5" rx="1.5" fill="#606060" filter="url(#b1)"/>
<rect x="401.5" y="120.3" width="18" height="12" rx="2" fill="#a6a6a6" filter="url(#b2)"/>
<rect x="403" y="124.25" width="15" height="5.5" rx="1.5" fill="#505050" filter="url(#b1)"/>
<rect x="422" y="120.1" width="20.5" height="12" rx="2" fill="#acacac" filter="url(#b2)"/>
<rect x="423.5" y="124.15" width="18" height="5.5" rx="1.5" fill="#5a5a5a" filter="url(#b1)"/>
</g>
<rect x="296.2" y="138.1" width="148.4" height="23.1" fill="#e6e4e6" stroke="#3a3a3a" stroke-width="1.15"/>
<rect x="297.3" y="139.2" width="146.2" height="20.9" fill="none" stroke="#f4f4f4" stroke-width="0.7" opacity="0.4"/>
<clipPath id="cB2"><rect x="297.5" y="139.2" width="145.8" height="20.7"/></clipPath>
<g clip-path="url(#cB2)">
<line x1="297" y1="146.3" x2="444" y2="146.3" stroke="#444" stroke-width="1.2"/>
<rect x="297.5" y="143.6" width="22" height="5.2" rx="5" ry="2.6" fill="#323232" filter="url(#b075)"/>
<rect x="320.5" y="143.6" width="19.5" height="5.2" rx="5" ry="2.6" fill="#323232" filter="url(#b075)"/>
<rect x="341.3" y="143.6" width="18.9" height="5.2" rx="5" ry="2.6" fill="#323232" filter="url(#b075)"/>
<rect x="362" y="143.6" width="18.5" height="5.2" rx="5" ry="2.6" fill="#323232" filter="url(#b075)"/>
<rect x="381.6" y="143.6" width="18.9" height="5.2" rx="5" ry="2.6" fill="#323232" filter="url(#b075)"/>
<rect x="402" y="143.6" width="19.5" height="5.2" rx="5" ry="2.6" fill="#323232" filter="url(#b075)"/>
<rect x="422.5" y="143.6" width="21" height="5.2" rx="5" ry="2.6" fill="#323232" filter="url(#b075)"/>
</g>
<text x="292.3" y="124.7" font-size="8.3" fill="#222" text-anchor="end" textLength="21.9" lengthAdjust="spacingAndGlyphs" class="bd">Steap3</text>
<text x="292.3" y="150.9" font-size="8.3" fill="#222" text-anchor="end" textLength="16.3" lengthAdjust="spacingAndGlyphs" class="bd">Actin</text>
<text x="379.9" y="30.9" font-size="7.6" fill="#222" textLength="41.5" lengthAdjust="spacingAndGlyphs" class="bd">Heterzygotes</text>
<line x1="363.1" y1="35.8" x2="437.9" y2="35.8" stroke="#222" stroke-width="1.1"/>
<text x="310.2" y="105.8" font-size="7.9" fill="#222" textLength="8.5" lengthAdjust="spacingAndGlyphs" transform="rotate(-90 310.2 105.8)" class="bd">B6</text>
<text x="330.5" y="105.8" font-size="7.9" fill="#222" textLength="11.7" lengthAdjust="spacingAndGlyphs" transform="rotate(-90 330.5 105.8)" class="bd">FVB</text>
<text x="350.9" y="105.8" font-size="7.9" fill="#222" textLength="7" lengthAdjust="spacingAndGlyphs" transform="rotate(-90 350.9 105.8)" class="bd">F1</text>
<text x="371.5" y="105.8" font-size="7.9" fill="#222" textLength="23.6" lengthAdjust="spacingAndGlyphs" transform="rotate(-90 371.5 105.8)" class="bd">Rec#7.3</text>
<text x="391.4" y="105.8" font-size="7.9" fill="#222" textLength="23.6" lengthAdjust="spacingAndGlyphs" transform="rotate(-90 391.4 105.8)" class="bd">Rec#8.1</text>
<text x="412.2" y="105.8" font-size="7.9" fill="#222" textLength="23.6" lengthAdjust="spacingAndGlyphs" transform="rotate(-90 412.2 105.8)" class="bd">Rec#8.2</text>
<text x="433.8" y="105.8" font-size="7.9" fill="#222" textLength="37.5" lengthAdjust="spacingAndGlyphs" transform="rotate(-90 433.8 105.8)" class="bd">B6.FVB-Chr1</text>
<text x="431.8" y="67.5" font-size="5" fill="#222" textLength="15.5" lengthAdjust="spacingAndGlyphs" transform="rotate(-90 431.8 67.5)">B6/FVB</text>
<rect x="65.3" y="475.1" width="123" height="35.9" fill="url(#gE1)" stroke="#3a3a3a" stroke-width="1.15"/>
<rect x="66.4" y="476.2" width="120.8" height="33.7" fill="none" stroke="#f4f4f4" stroke-width="0.7" opacity="0.4"/>
<clipPath id="cE1"><rect x="66" y="475.8" width="121.6" height="34.5"/></clipPath>
<g clip-path="url(#cE1)">
<rect x="90.5" y="480.1" width="18" height="9" rx="2" fill="#7a7a7a" filter="url(#b2)"/>
<rect x="92" y="482.05" width="15" height="5.5" rx="1.5" fill="#4a4a4a" filter="url(#b1)"/>
<rect x="92" y="488" width="15" height="6" rx="3" fill="#acacac" filter="url(#b2)"/>
<rect x="111.5" y="481" width="18" height="7" rx="3.5" fill="#b8b8b8" filter="url(#b2)"/>
<rect x="133" y="480" width="17.5" height="10" rx="2" fill="#5a5a5a" filter="url(#b2)"/>
<rect x="134.5" y="482.85" width="15" height="5.5" rx="1.5" fill="#1a1a1a" filter="url(#b075)"/>
<rect x="133.5" y="489" width="16" height="6" rx="3" fill="#8e8e8e" filter="url(#b2)"/>
<rect x="72.3" y="496.7" width="15.7" height="3.8" rx="1.9" fill="#161616" filter="url(#b05)"/>
<rect x="91.8" y="496.7" width="16.2" height="3.8" rx="1.9" fill="#161616" filter="url(#b05)"/>
<rect x="112" y="496.7" width="17" height="3.8" rx="1.9" fill="#161616" filter="url(#b05)"/>
<rect x="133.4" y="496.7" width="16.1" height="3.8" rx="1.9" fill="#161616" filter="url(#b05)"/>
<rect x="152.9" y="487.5" width="14.6" height="7" rx="3.5" fill="#9a9a9a" filter="url(#b2)"/>
<rect x="153.6" y="492.3" width="13.2" height="3.6" rx="1.5" fill="#2a2a2a" filter="url(#b075)"/>
<rect x="152.4" y="496.8" width="15.6" height="4.4" rx="2.2" fill="#121212" filter="url(#b05)"/>
<rect x="173.2" y="487.5" width="13.8" height="7" rx="3.5" fill="#9a9a9a" filter="url(#b2)"/>
<rect x="173.9" y="492.3" width="12.4" height="3.6" rx="1.5" fill="#2a2a2a" filter="url(#b075)"/>
<rect x="172.7" y="496.8" width="14.8" height="4.4" rx="2.2" fill="#121212" filter="url(#b05)"/>
</g>
<rect x="65.3" y="514.7" width="123" height="32.2" fill="#eaeaea" stroke="#3a3a3a" stroke-width="1.15"/>
<rect x="66.4" y="515.8" width="120.8" height="30" fill="none" stroke="#f4f4f4" stroke-width="0.7" opacity="0.4"/>
<clipPath id="cE2"><rect x="66" y="515.4" width="121.6" height="30.8"/></clipPath>
<g clip-path="url(#cE2)">
<line x1="66" y1="530.9" x2="188" y2="530.9" stroke="#3a3a3a" stroke-width="1.6"/>
<rect x="66.3" y="528.1" width="22.4" height="5.8" rx="6" ry="2.9" fill="#262626" filter="url(#b075)"/>
<rect x="89.3" y="528.1" width="19.9" height="5.8" rx="6" ry="2.9" fill="#262626" filter="url(#b075)"/>
<rect x="109.8" y="528.1" width="19.4" height="5.8" rx="6" ry="2.9" fill="#262626" filter="url(#b075)"/>
<rect x="129.8" y="528.1" width="19.9" height="5.8" rx="6" ry="2.9" fill="#262626" filter="url(#b075)"/>
<rect x="150.3" y="528.1" width="19.4" height="5.8" rx="6" ry="2.9" fill="#262626" filter="url(#b075)"/>
<rect x="170.3" y="528.1" width="19.4" height="5.8" rx="6" ry="2.9" fill="#262626" filter="url(#b075)"/>
<rect x="75" y="520.05" width="13" height="1.5" rx="0.75" fill="#dedede" filter="url(#b05)"/>
<rect x="95" y="520.05" width="13" height="1.5" rx="0.75" fill="#dedede" filter="url(#b05)"/>
<rect x="114" y="520.05" width="14" height="1.5" rx="0.75" fill="#dedede" filter="url(#b05)"/>
<rect x="134" y="520.05" width="14" height="1.5" rx="0.75" fill="#dedede" filter="url(#b05)"/>
<rect x="154" y="520.05" width="14" height="1.5" rx="0.75" fill="#dedede" filter="url(#b05)"/>
<rect x="174" y="520.05" width="13" height="1.5" rx="0.75" fill="#dedede" filter="url(#b05)"/>
</g>
<text x="47.5" y="486.4" font-size="8" fill="#222" text-anchor="end" textLength="21.2" lengthAdjust="spacingAndGlyphs" class="bd">Steap3</text>
<text x="49.25" y="496.4" font-size="8" fill="#222" text-anchor="end" textLength="37.2" lengthAdjust="spacingAndGlyphs" class="bd">Steap3(LCB)</text>
<text x="49.25" y="531" font-size="8" fill="#222" text-anchor="end" textLength="16" lengthAdjust="spacingAndGlyphs" class="bd">Actin</text>
<line x1="54.5" y1="483.75" x2="59.5" y2="483.75" stroke="#222" stroke-width="1.25"/>
<polygon points="57.2,481.25 61.8,483.75 57.2,486.25 58.3,483.75" fill="#222"/>
<line x1="54.5" y1="495" x2="59.5" y2="495" stroke="#222" stroke-width="1.25"/>
<polygon points="57.2,492.5 61.8,495 57.2,497.5 58.3,495" fill="#222"/>
<text x="85.1" y="470.5" font-size="7.9" fill="#222" textLength="8.5" lengthAdjust="spacingAndGlyphs" transform="rotate(-90 85.1 470.5)" class="bd">B6</text>
<text x="104.5" y="470.5" font-size="7.9" fill="#222" textLength="11.7" lengthAdjust="spacingAndGlyphs" transform="rotate(-90 104.5 470.5)" class="bd">FVB</text>
<text x="124.3" y="470.5" font-size="7.9" fill="#222" textLength="7" lengthAdjust="spacingAndGlyphs" transform="rotate(-90 124.3 470.5)" class="bd">F1</text>
<text x="145.6" y="470.5" font-size="7.9" fill="#222" textLength="36.3" lengthAdjust="spacingAndGlyphs" transform="rotate(-90 145.6 470.5)" class="bd">B6.FVB-Chr1</text>
<text x="165.4" y="470.5" font-size="7.9" fill="#222" textLength="21.5" lengthAdjust="spacingAndGlyphs" transform="rotate(-90 165.4 470.5)" class="bd">LCB(A)</text>
<text x="184.3" y="470.5" font-size="7.9" fill="#222" textLength="21.5" lengthAdjust="spacingAndGlyphs" transform="rotate(-90 184.3 470.5)" class="bd">LCB(C)</text>
<text x="142.3" y="432.8" font-size="5.2" fill="#222" textLength="19" lengthAdjust="spacingAndGlyphs" transform="rotate(-90 142.3 432.8)">FVB/FVB</text>
<line x1="47" y1="361.57" x2="47" y2="363.28" stroke="#a9c3e6" stroke-width="1.0"/>
<line x1="45.1" y1="361.57" x2="48.9" y2="361.57" stroke="#a9c3e6" stroke-width="1.0"/>
<line x1="45.1" y1="363.28" x2="48.9" y2="363.28" stroke="#a9c3e6" stroke-width="1.0"/>
<line x1="77.33" y1="359.75" x2="77.33" y2="360.82" stroke="#a9c3e6" stroke-width="1.0"/>
<line x1="75.43" y1="359.75" x2="79.23" y2="359.75" stroke="#a9c3e6" stroke-width="1.0"/>
<line x1="75.43" y1="360.82" x2="79.23" y2="360.82" stroke="#a9c3e6" stroke-width="1.0"/>
<line x1="107.66" y1="354.41" x2="107.66" y2="361.89" stroke="#a9c3e6" stroke-width="1.0"/>
<line x1="105.76" y1="354.41" x2="109.56" y2="354.41" stroke="#a9c3e6" stroke-width="1.0"/>
<line x1="105.76" y1="361.89" x2="109.56" y2="361.89" stroke="#a9c3e6" stroke-width="1.0"/>
<line x1="137.99" y1="360.82" x2="137.99" y2="361.89" stroke="#a9c3e6" stroke-width="1.0"/>
<line x1="136.09" y1="360.82" x2="139.89" y2="360.82" stroke="#a9c3e6" stroke-width="1.0"/>
<line x1="136.09" y1="361.89" x2="139.89" y2="361.89" stroke="#a9c3e6" stroke-width="1.0"/>
<line x1="168.32" y1="361.35" x2="168.32" y2="362.42" stroke="#a9c3e6" stroke-width="1.0"/>
<line x1="166.42" y1="361.35" x2="170.22" y2="361.35" stroke="#a9c3e6" stroke-width="1.0"/>
<line x1="166.42" y1="362.42" x2="170.22" y2="362.42" stroke="#a9c3e6" stroke-width="1.0"/>
<line x1="198.65" y1="355.48" x2="198.65" y2="361.89" stroke="#a9c3e6" stroke-width="1.0"/>
<line x1="196.75" y1="355.48" x2="200.55" y2="355.48" stroke="#a9c3e6" stroke-width="1.0"/>
<line x1="196.75" y1="361.89" x2="200.55" y2="361.89" stroke="#a9c3e6" stroke-width="1.0"/>
<line x1="228.98" y1="361.35" x2="228.98" y2="364.56" stroke="#a9c3e6" stroke-width="1.0"/>
<line x1="227.08" y1="361.35" x2="230.88" y2="361.35" stroke="#a9c3e6" stroke-width="1.0"/>
<line x1="227.08" y1="364.56" x2="230.88" y2="364.56" stroke="#a9c3e6" stroke-width="1.0"/>
<line x1="47" y1="315.43" x2="47" y2="325.04" stroke="#54468e" stroke-width="1.0"/>
<line x1="45.1" y1="315.43" x2="48.9" y2="315.43" stroke="#54468e" stroke-width="1.0"/>
<line x1="45.1" y1="325.04" x2="48.9" y2="325.04" stroke="#54468e" stroke-width="1.0"/>
<line x1="77.33" y1="328.25" x2="77.33" y2="337.86" stroke="#54468e" stroke-width="1.0"/>
<line x1="75.43" y1="328.25" x2="79.23" y2="328.25" stroke="#54468e" stroke-width="1.0"/>
<line x1="75.43" y1="337.86" x2="79.23" y2="337.86" stroke="#54468e" stroke-width="1.0"/>
<line x1="107.66" y1="337.86" x2="107.66" y2="343.2" stroke="#54468e" stroke-width="1.0"/>
<line x1="105.76" y1="337.86" x2="109.56" y2="337.86" stroke="#54468e" stroke-width="1.0"/>
<line x1="105.76" y1="343.2" x2="109.56" y2="343.2" stroke="#54468e" stroke-width="1.0"/>
<line x1="137.99" y1="338.71" x2="137.99" y2="345.12" stroke="#54468e" stroke-width="1.0"/>
<line x1="136.09" y1="338.71" x2="139.89" y2="338.71" stroke="#54468e" stroke-width="1.0"/>
<line x1="136.09" y1="345.12" x2="139.89" y2="345.12" stroke="#54468e" stroke-width="1.0"/>
<line x1="168.32" y1="346.3" x2="168.32" y2="352.7" stroke="#54468e" stroke-width="1.0"/>
<line x1="166.42" y1="346.3" x2="170.22" y2="346.3" stroke="#54468e" stroke-width="1.0"/>
<line x1="166.42" y1="352.7" x2="170.22" y2="352.7" stroke="#54468e" stroke-width="1.0"/>
<line x1="198.65" y1="350.78" x2="198.65" y2="357.19" stroke="#54468e" stroke-width="1.0"/>
<line x1="196.75" y1="350.78" x2="200.55" y2="350.78" stroke="#54468e" stroke-width="1.0"/>
<line x1="196.75" y1="357.19" x2="200.55" y2="357.19" stroke="#54468e" stroke-width="1.0"/>
<line x1="228.98" y1="354.84" x2="228.98" y2="361.25" stroke="#54468e" stroke-width="1.0"/>
<line x1="227.08" y1="354.84" x2="230.88" y2="354.84" stroke="#54468e" stroke-width="1.0"/>
<line x1="227.08" y1="361.25" x2="230.88" y2="361.25" stroke="#54468e" stroke-width="1.0"/>
<line x1="47" y1="299.73" x2="47" y2="302.29" stroke="#909090" stroke-width="1.0"/>
<line x1="45.1" y1="299.73" x2="48.9" y2="299.73" stroke="#909090" stroke-width="1.0"/>
<line x1="45.1" y1="302.29" x2="48.9" y2="302.29" stroke="#909090" stroke-width="1.0"/>
<line x1="77.33" y1="321.3" x2="77.33" y2="323.44" stroke="#909090" stroke-width="1.0"/>
<line x1="75.43" y1="321.3" x2="79.23" y2="321.3" stroke="#909090" stroke-width="1.0"/>
<line x1="75.43" y1="323.44" x2="79.23" y2="323.44" stroke="#909090" stroke-width="1.0"/>
<line x1="107.66" y1="333.05" x2="107.66" y2="335.19" stroke="#909090" stroke-width="1.0"/>
<line x1="105.76" y1="333.05" x2="109.56" y2="333.05" stroke="#909090" stroke-width="1.0"/>
<line x1="105.76" y1="335.19" x2="109.56" y2="335.19" stroke="#909090" stroke-width="1.0"/>
<line x1="137.99" y1="339.99" x2="137.99" y2="342.13" stroke="#909090" stroke-width="1.0"/>
<line x1="136.09" y1="339.99" x2="139.89" y2="339.99" stroke="#909090" stroke-width="1.0"/>
<line x1="136.09" y1="342.13" x2="139.89" y2="342.13" stroke="#909090" stroke-width="1.0"/>
<line x1="168.32" y1="346.94" x2="168.32" y2="351.21" stroke="#909090" stroke-width="1.0"/>
<line x1="166.42" y1="346.94" x2="170.22" y2="346.94" stroke="#909090" stroke-width="1.0"/>
<line x1="166.42" y1="351.21" x2="170.22" y2="351.21" stroke="#909090" stroke-width="1.0"/>
<line x1="198.65" y1="351.42" x2="198.65" y2="355.69" stroke="#909090" stroke-width="1.0"/>
<line x1="196.75" y1="351.42" x2="200.55" y2="351.42" stroke="#909090" stroke-width="1.0"/>
<line x1="196.75" y1="355.69" x2="200.55" y2="355.69" stroke="#909090" stroke-width="1.0"/>
<line x1="228.98" y1="354.41" x2="228.98" y2="358.68" stroke="#909090" stroke-width="1.0"/>
<line x1="227.08" y1="354.41" x2="230.88" y2="354.41" stroke="#909090" stroke-width="1.0"/>
<line x1="227.08" y1="358.68" x2="230.88" y2="358.68" stroke="#909090" stroke-width="1.0"/>
<line x1="47" y1="252.95" x2="47" y2="287.13" stroke="#78b458" stroke-width="1.0"/>
<line x1="45.1" y1="252.95" x2="48.9" y2="252.95" stroke="#78b458" stroke-width="1.0"/>
<line x1="45.1" y1="287.13" x2="48.9" y2="287.13" stroke="#78b458" stroke-width="1.0"/>
<line x1="77.33" y1="285.53" x2="77.33" y2="312.23" stroke="#78b458" stroke-width="1.0"/>
<line x1="75.43" y1="285.53" x2="79.23" y2="285.53" stroke="#78b458" stroke-width="1.0"/>
<line x1="75.43" y1="312.23" x2="79.23" y2="312.23" stroke="#78b458" stroke-width="1.0"/>
<line x1="107.66" y1="309.02" x2="107.66" y2="327.18" stroke="#78b458" stroke-width="1.0"/>
<line x1="105.76" y1="309.02" x2="109.56" y2="309.02" stroke="#78b458" stroke-width="1.0"/>
<line x1="105.76" y1="327.18" x2="109.56" y2="327.18" stroke="#78b458" stroke-width="1.0"/>
<line x1="137.99" y1="332.73" x2="137.99" y2="341.28" stroke="#78b458" stroke-width="1.0"/>
<line x1="136.09" y1="332.73" x2="139.89" y2="332.73" stroke="#78b458" stroke-width="1.0"/>
<line x1="136.09" y1="341.28" x2="139.89" y2="341.28" stroke="#78b458" stroke-width="1.0"/>
<line x1="168.32" y1="342.77" x2="168.32" y2="349.18" stroke="#78b458" stroke-width="1.0"/>
<line x1="166.42" y1="342.77" x2="170.22" y2="342.77" stroke="#78b458" stroke-width="1.0"/>
<line x1="166.42" y1="349.18" x2="170.22" y2="349.18" stroke="#78b458" stroke-width="1.0"/>
<line x1="198.65" y1="349.5" x2="198.65" y2="355.91" stroke="#78b458" stroke-width="1.0"/>
<line x1="196.75" y1="349.5" x2="200.55" y2="349.5" stroke="#78b458" stroke-width="1.0"/>
<line x1="196.75" y1="355.91" x2="200.55" y2="355.91" stroke="#78b458" stroke-width="1.0"/>
<line x1="228.98" y1="353.77" x2="228.98" y2="358.04" stroke="#78b458" stroke-width="1.0"/>
<line x1="227.08" y1="353.77" x2="230.88" y2="353.77" stroke="#78b458" stroke-width="1.0"/>
<line x1="227.08" y1="358.04" x2="230.88" y2="358.04" stroke="#78b458" stroke-width="1.0"/>
<line x1="47" y1="231.59" x2="47" y2="272.18" stroke="#d05a50" stroke-width="1.0"/>
<line x1="45.1" y1="231.59" x2="48.9" y2="231.59" stroke="#d05a50" stroke-width="1.0"/>
<line x1="45.1" y1="272.18" x2="48.9" y2="272.18" stroke="#d05a50" stroke-width="1.0"/>
<line x1="77.33" y1="272.18" x2="77.33" y2="302.08" stroke="#d05a50" stroke-width="1.0"/>
<line x1="75.43" y1="272.18" x2="79.23" y2="272.18" stroke="#d05a50" stroke-width="1.0"/>
<line x1="75.43" y1="302.08" x2="79.23" y2="302.08" stroke="#d05a50" stroke-width="1.0"/>
<line x1="107.66" y1="300.48" x2="107.66" y2="320.77" stroke="#d05a50" stroke-width="1.0"/>
<line x1="105.76" y1="300.48" x2="109.56" y2="300.48" stroke="#d05a50" stroke-width="1.0"/>
<line x1="105.76" y1="320.77" x2="109.56" y2="320.77" stroke="#d05a50" stroke-width="1.0"/>
<line x1="137.99" y1="322.05" x2="137.99" y2="334.87" stroke="#d05a50" stroke-width="1.0"/>
<line x1="136.09" y1="322.05" x2="139.89" y2="322.05" stroke="#d05a50" stroke-width="1.0"/>
<line x1="136.09" y1="334.87" x2="139.89" y2="334.87" stroke="#d05a50" stroke-width="1.0"/>
<line x1="168.32" y1="334.44" x2="168.32" y2="345.12" stroke="#d05a50" stroke-width="1.0"/>
<line x1="166.42" y1="334.44" x2="170.22" y2="334.44" stroke="#d05a50" stroke-width="1.0"/>
<line x1="166.42" y1="345.12" x2="170.22" y2="345.12" stroke="#d05a50" stroke-width="1.0"/>
<line x1="198.65" y1="342.98" x2="198.65" y2="351.53" stroke="#d05a50" stroke-width="1.0"/>
<line x1="196.75" y1="342.98" x2="200.55" y2="342.98" stroke="#d05a50" stroke-width="1.0"/>
<line x1="196.75" y1="351.53" x2="200.55" y2="351.53" stroke="#d05a50" stroke-width="1.0"/>
<line x1="228.98" y1="346.08" x2="228.98" y2="356.76" stroke="#d05a50" stroke-width="1.0"/>
<line x1="227.08" y1="346.08" x2="230.88" y2="346.08" stroke="#d05a50" stroke-width="1.0"/>
<line x1="227.08" y1="356.76" x2="230.88" y2="356.76" stroke="#d05a50" stroke-width="1.0"/>
<polyline fill="none" stroke="#a9c3e6" stroke-width="1.5" stroke-linejoin="round" points="47,362.42 77.33,360.29 107.66,358.15 137.99,361.35 168.32,361.89 198.65,358.68 228.98,362.96"/>
<circle cx="47" cy="362.42" r="1.35" fill="#a9c3e6"/>
<circle cx="77.33" cy="360.29" r="1.35" fill="#a9c3e6"/>
<circle cx="107.66" cy="358.15" r="1.35" fill="#a9c3e6"/>
<circle cx="137.99" cy="361.35" r="1.35" fill="#a9c3e6"/>
<circle cx="168.32" cy="361.89" r="1.35" fill="#a9c3e6"/>
<circle cx="198.65" cy="358.68" r="1.35" fill="#a9c3e6"/>
<circle cx="228.98" cy="362.96" r="1.35" fill="#a9c3e6"/>
<polyline fill="none" stroke="#42327e" stroke-width="1.5" stroke-linejoin="round" points="47,320.24 77.33,333.05 107.66,340.53 137.99,341.92 168.32,349.5 198.65,353.98 228.98,358.04"/>
<circle cx="47" cy="320.24" r="1.35" fill="#42327e"/>
<circle cx="77.33" cy="333.05" r="1.35" fill="#42327e"/>
<circle cx="107.66" cy="340.53" r="1.35" fill="#42327e"/>
<circle cx="137.99" cy="341.92" r="1.35" fill="#42327e"/>
<circle cx="168.32" cy="349.5" r="1.35" fill="#42327e"/>
<circle cx="198.65" cy="353.98" r="1.35" fill="#42327e"/>
<circle cx="228.98" cy="358.04" r="1.35" fill="#42327e"/>
<polyline fill="none" stroke="#7d7d7d" stroke-width="1.5" stroke-linejoin="round" points="47,301.01 77.33,322.37 107.66,334.12 137.99,341.06 168.32,349.07 198.65,353.56 228.98,356.55"/>
<circle cx="47" cy="301.01" r="1.35" fill="#7d7d7d"/>
<circle cx="77.33" cy="322.37" r="1.35" fill="#7d7d7d"/>
<circle cx="107.66" cy="334.12" r="1.35" fill="#7d7d7d"/>
<circle cx="137.99" cy="341.06" r="1.35" fill="#7d7d7d"/>
<circle cx="168.32" cy="349.07" r="1.35" fill="#7d7d7d"/>
<circle cx="198.65" cy="353.56" r="1.35" fill="#7d7d7d"/>
<circle cx="228.98" cy="356.55" r="1.35" fill="#7d7d7d"/>
<polyline fill="none" stroke="#5ea434" stroke-width="1.5" stroke-linejoin="round" points="47,270.04 77.33,298.88 107.66,318.1 137.99,337 168.32,345.97 198.65,352.7 228.98,355.91"/>
<circle cx="47" cy="270.04" r="1.35" fill="#5ea434"/>
<circle cx="77.33" cy="298.88" r="1.35" fill="#5ea434"/>
<circle cx="107.66" cy="318.1" r="1.35" fill="#5ea434"/>
<circle cx="137.99" cy="337" r="1.35" fill="#5ea434"/>
<circle cx="168.32" cy="345.97" r="1.35" fill="#5ea434"/>
<circle cx="198.65" cy="352.7" r="1.35" fill="#5ea434"/>
<circle cx="228.98" cy="355.91" r="1.35" fill="#5ea434"/>
<polyline fill="none" stroke="#c42c20" stroke-width="1.5" stroke-linejoin="round" points="47,251.88 77.33,287.13 107.66,310.62 137.99,328.46 168.32,339.78 198.65,347.26 228.98,351.42"/>
<circle cx="47" cy="251.88" r="1.35" fill="#c42c20"/>
<circle cx="77.33" cy="287.13" r="1.35" fill="#c42c20"/>
<circle cx="107.66" cy="310.62" r="1.35" fill="#c42c20"/>
<circle cx="137.99" cy="328.46" r="1.35" fill="#c42c20"/>
<circle cx="168.32" cy="339.78" r="1.35" fill="#c42c20"/>
<circle cx="198.65" cy="347.26" r="1.35" fill="#c42c20"/>
<circle cx="228.98" cy="351.42" r="1.35" fill="#c42c20"/>
<line x1="42.5" y1="216" x2="42.5" y2="372.05" stroke="#1e1e1e" stroke-width="1.1"/>
<line x1="41.95" y1="371.5" x2="249.2" y2="371.5" stroke="#1e1e1e" stroke-width="1.1"/>
<line x1="39.3" y1="371.5" x2="42.5" y2="371.5" stroke="#222" stroke-width="1"/>
<text x="37" y="374.1" font-size="7.9" fill="#222" text-anchor="end" textLength="14.3" lengthAdjust="spacingAndGlyphs">0.03</text>
<line x1="39.3" y1="360.82" x2="42.5" y2="360.82" stroke="#222" stroke-width="1"/>
<text x="37" y="363.42" font-size="7.9" fill="#222" text-anchor="end" textLength="14.3" lengthAdjust="spacingAndGlyphs">0.04</text>
<line x1="39.3" y1="350.14" x2="42.5" y2="350.14" stroke="#222" stroke-width="1"/>
<text x="37" y="352.74" font-size="7.9" fill="#222" text-anchor="end" textLength="14.3" lengthAdjust="spacingAndGlyphs">0.05</text>
<line x1="39.3" y1="339.46" x2="42.5" y2="339.46" stroke="#222" stroke-width="1"/>
<text x="37" y="342.06" font-size="7.9" fill="#222" text-anchor="end" textLength="14.3" lengthAdjust="spacingAndGlyphs">0.06</text>
<line x1="39.3" y1="328.78" x2="42.5" y2="328.78" stroke="#222" stroke-width="1"/>
<text x="37" y="331.38" font-size="7.9" fill="#222" text-anchor="end" textLength="14.3" lengthAdjust="spacingAndGlyphs">0.07</text>
<line x1="39.3" y1="318.1" x2="42.5" y2="318.1" stroke="#222" stroke-width="1"/>
<text x="37" y="320.7" font-size="7.9" fill="#222" text-anchor="end" textLength="14.3" lengthAdjust="spacingAndGlyphs">0.08</text>
<line x1="39.3" y1="307.42" x2="42.5" y2="307.42" stroke="#222" stroke-width="1"/>
<text x="37" y="310.02" font-size="7.9" fill="#222" text-anchor="end" textLength="14.3" lengthAdjust="spacingAndGlyphs">0.09</text>
<line x1="39.3" y1="296.74" x2="42.5" y2="296.74" stroke="#222" stroke-width="1"/>
<text x="37" y="299.34" font-size="7.9" fill="#222" text-anchor="end" textLength="14.3" lengthAdjust="spacingAndGlyphs">0.10</text>
<line x1="39.3" y1="286.06" x2="42.5" y2="286.06" stroke="#222" stroke-width="1"/>
<text x="37" y="288.66" font-size="7.9" fill="#222" text-anchor="end" textLength="14.3" lengthAdjust="spacingAndGlyphs">0.11</text>
<line x1="39.3" y1="275.38" x2="42.5" y2="275.38" stroke="#222" stroke-width="1"/>
<text x="37" y="277.98" font-size="7.9" fill="#222" text-anchor="end" textLength="14.3" lengthAdjust="spacingAndGlyphs">0.12</text>
<line x1="39.3" y1="264.7" x2="42.5" y2="264.7" stroke="#222" stroke-width="1"/>
<text x="37" y="267.3" font-size="7.9" fill="#222" text-anchor="end" textLength="14.3" lengthAdjust="spacingAndGlyphs">0.13</text>
<line x1="39.3" y1="254.02" x2="42.5" y2="254.02" stroke="#222" stroke-width="1"/>
<text x="37" y="256.62" font-size="7.9" fill="#222" text-anchor="end" textLength="14.3" lengthAdjust="spacingAndGlyphs">0.14</text>
<line x1="39.3" y1="243.34" x2="42.5" y2="243.34" stroke="#222" stroke-width="1"/>
<text x="37" y="245.94" font-size="7.9" fill="#222" text-anchor="end" textLength="14.3" lengthAdjust="spacingAndGlyphs">0.15</text>
<line x1="39.3" y1="232.66" x2="42.5" y2="232.66" stroke="#222" stroke-width="1"/>
<text x="37" y="235.26" font-size="7.9" fill="#222" text-anchor="end" textLength="14.3" lengthAdjust="spacingAndGlyphs">0.16</text>
<line x1="39.3" y1="221.98" x2="42.5" y2="221.98" stroke="#222" stroke-width="1"/>
<text x="37" y="224.58" font-size="7.9" fill="#222" text-anchor="end" textLength="14.3" lengthAdjust="spacingAndGlyphs">0.17</text>
<text x="15.1" y="293.5" font-size="9.4" fill="#222" text-anchor="middle" textLength="120.4" lengthAdjust="spacingAndGlyphs" transform="rotate(-90 15.1 293.5)" class="md">Ferrozine activity (Abs 562nm)</text>
<text x="84.3" y="383.3" font-size="7.8" fill="#222" textLength="83" lengthAdjust="spacingAndGlyphs">1:2 serial dilution of RBCs</text>
<line x1="169.8" y1="381" x2="241" y2="381" stroke="#333" stroke-width="1.2"/>
<polygon points="238.3,377.4 246.3,381 238.3,384.6 240.2,381" fill="#222"/>
<line x1="96.9" y1="224.9" x2="96.9" y2="283" stroke="#222" stroke-width="1.1"/>
<line x1="96.4" y1="282.5" x2="171.3" y2="282.5" stroke="#222" stroke-width="1.1"/>
<line x1="93.9" y1="227.5" x2="96.9" y2="227.5" stroke="#222" stroke-width="0.9"/>
<line x1="93.9" y1="235.8" x2="96.9" y2="235.8" stroke="#222" stroke-width="0.9"/>
<line x1="93.9" y1="243.4" x2="96.9" y2="243.4" stroke="#222" stroke-width="0.9"/>
<line x1="93.9" y1="251.4" x2="96.9" y2="251.4" stroke="#222" stroke-width="0.9"/>
<line x1="93.9" y1="259.2" x2="96.9" y2="259.2" stroke="#222" stroke-width="0.9"/>
<line x1="93.9" y1="266.8" x2="96.9" y2="266.8" stroke="#222" stroke-width="0.9"/>
<line x1="93.9" y1="274.7" x2="96.9" y2="274.7" stroke="#222" stroke-width="0.9"/>
<line x1="106.4" y1="282.5" x2="106.4" y2="285.5" stroke="#222" stroke-width="0.9"/>
<line x1="120.6" y1="282.5" x2="120.6" y2="285.5" stroke="#222" stroke-width="0.9"/>
<line x1="134.7" y1="282.5" x2="134.7" y2="285.5" stroke="#222" stroke-width="0.9"/>
<line x1="148.5" y1="282.5" x2="148.5" y2="285.5" stroke="#222" stroke-width="0.9"/>
<line x1="162.3" y1="282.5" x2="162.3" y2="285.5" stroke="#222" stroke-width="0.9"/>
<polyline fill="none" stroke="#222" stroke-width="1" points="106.4,251.7 106.4,218.5 141.4,218.5 141.4,222.8"/>
<polyline fill="none" stroke="#222" stroke-width="1" points="113,227.2 113,222.8 167,222.8 167,227.2"/>
<circle cx="122.12" cy="215.65" r="1.2" fill="#333"/>
<circle cx="125.47" cy="215.65" r="1.2" fill="#333"/>
<circle cx="103.5" cy="257.6" r="1.1" fill="#42327e"/>
<circle cx="106" cy="258.4" r="1.1" fill="#42327e"/>
<circle cx="107.5" cy="260.8" r="1.1" fill="#42327e"/>
<circle cx="109.5" cy="260.3" r="1.1" fill="#42327e"/>
<circle cx="105.8" cy="260.9" r="1.1" fill="#42327e"/>
<line x1="102" y1="258.6" x2="107.5" y2="258.6" stroke="#2a2070" stroke-width="0.8"/>
<line x1="104.5" y1="261" x2="111.5" y2="261" stroke="#2a2070" stroke-width="0.8"/>
<circle cx="118.8" cy="239.8" r="1.5" fill="#c42c20"/>
<circle cx="122.4" cy="239.3" r="1.5" fill="#c42c20"/>
<line x1="120.6" y1="228.4" x2="120.6" y2="242.2" stroke="#222" stroke-width="0.95"/>
<line x1="118" y1="228.4" x2="123.2" y2="228.4" stroke="#222" stroke-width="0.95"/>
<line x1="118" y1="242.2" x2="123.2" y2="242.2" stroke="#222" stroke-width="0.95"/>
<line x1="115.7" y1="235.3" x2="125.5" y2="235.3" stroke="#222" stroke-width="0.95"/>
<line x1="129.8" y1="252.6" x2="139.5" y2="252.6" stroke="#333" stroke-width="0.9"/>
<circle cx="132.6" cy="252.6" r="1.1" fill="none" stroke="#444" stroke-width="0.6"/>
<circle cx="135.2" cy="252.6" r="1.1" fill="none" stroke="#444" stroke-width="0.6"/>
<circle cx="137" cy="252.6" r="1.1" fill="none" stroke="#444" stroke-width="0.6"/>
<circle cx="148.5" cy="235.5" r="1.5" fill="#5ea434"/>
<circle cx="150.6" cy="244.3" r="1.5" fill="#5ea434"/>
<circle cx="147" cy="247.4" r="1.5" fill="#5ea434"/>
<line x1="148.5" y1="235.8" x2="148.5" y2="248.6" stroke="#222" stroke-width="0.95"/>
<line x1="145.9" y1="235.8" x2="151.1" y2="235.8" stroke="#222" stroke-width="0.95"/>
<line x1="145.9" y1="248.6" x2="151.1" y2="248.6" stroke="#222" stroke-width="0.95"/>
<line x1="143.6" y1="242.2" x2="153.4" y2="242.2" stroke="#222" stroke-width="0.95"/>
<line x1="157.4" y1="275.4" x2="167.2" y2="275.4" stroke="#222" stroke-width="0.9"/>
<path d="M162.3,273.6 L164.1,275.4 L162.3,277.2 L160.5,275.4 Z" fill="#a9c3e6"/>
<line x1="172.8" y1="237.1" x2="183.2" y2="237.1" stroke="#42327e" stroke-width="1.3"/>
<text x="186.1" y="239.5" font-size="7" fill="#222" textLength="8.5" lengthAdjust="spacingAndGlyphs">B6</text>
<line x1="172.8" y1="244.98" x2="183.2" y2="244.98" stroke="#c42c20" stroke-width="1.3"/>
<text x="186.1" y="247.38" font-size="7" fill="#222" textLength="12.6" lengthAdjust="spacingAndGlyphs">FVB</text>
<line x1="172.8" y1="252.86" x2="183.2" y2="252.86" stroke="#7d7d7d" stroke-width="1.3"/>
<text x="186.1" y="255.26" font-size="7" fill="#222" textLength="7.4" lengthAdjust="spacingAndGlyphs">F1</text>
<line x1="172.8" y1="260.74" x2="183.2" y2="260.74" stroke="#5ea434" stroke-width="1.3"/>
<text x="186.1" y="263.14" font-size="7" fill="#222" textLength="36.5" lengthAdjust="spacingAndGlyphs">B6.FVB-Chr1</text>
<text x="222.7" y="260.14" font-size="5" fill="#222" textLength="18.5" lengthAdjust="spacingAndGlyphs">FVB/FVB</text>
<line x1="172.8" y1="268.62" x2="183.2" y2="268.62" stroke="#a9c3e6" stroke-width="1.3"/>
<text x="186.1" y="271.02" font-size="7" fill="#222" textLength="26.5" lengthAdjust="spacingAndGlyphs">No RBCs</text>
<line x1="306.5" y1="361.58" x2="306.5" y2="362.83" stroke="#a9c3e6" stroke-width="1.0"/>
<line x1="304.6" y1="361.58" x2="308.4" y2="361.58" stroke="#a9c3e6" stroke-width="1.0"/>
<line x1="304.6" y1="362.83" x2="308.4" y2="362.83" stroke="#a9c3e6" stroke-width="1.0"/>
<line x1="332.7" y1="360.58" x2="332.7" y2="363.08" stroke="#a9c3e6" stroke-width="1.0"/>
<line x1="330.8" y1="360.58" x2="334.6" y2="360.58" stroke="#a9c3e6" stroke-width="1.0"/>
<line x1="330.8" y1="363.08" x2="334.6" y2="363.08" stroke="#a9c3e6" stroke-width="1.0"/>
<line x1="358.9" y1="361.21" x2="358.9" y2="363.21" stroke="#a9c3e6" stroke-width="1.0"/>
<line x1="357" y1="361.21" x2="360.8" y2="361.21" stroke="#a9c3e6" stroke-width="1.0"/>
<line x1="357" y1="363.21" x2="360.8" y2="363.21" stroke="#a9c3e6" stroke-width="1.0"/>
<line x1="385.1" y1="361.83" x2="385.1" y2="363.08" stroke="#a9c3e6" stroke-width="1.0"/>
<line x1="383.2" y1="361.83" x2="387" y2="361.83" stroke="#a9c3e6" stroke-width="1.0"/>
<line x1="383.2" y1="363.08" x2="387" y2="363.08" stroke="#a9c3e6" stroke-width="1.0"/>
<line x1="411.3" y1="362.71" x2="411.3" y2="363.96" stroke="#a9c3e6" stroke-width="1.0"/>
<line x1="409.4" y1="362.71" x2="413.2" y2="362.71" stroke="#a9c3e6" stroke-width="1.0"/>
<line x1="409.4" y1="363.96" x2="413.2" y2="363.96" stroke="#a9c3e6" stroke-width="1.0"/>
<line x1="437.5" y1="360.58" x2="437.5" y2="364.33" stroke="#a9c3e6" stroke-width="1.0"/>
<line x1="435.6" y1="360.58" x2="439.4" y2="360.58" stroke="#a9c3e6" stroke-width="1.0"/>
<line x1="435.6" y1="364.33" x2="439.4" y2="364.33" stroke="#a9c3e6" stroke-width="1.0"/>
<line x1="463.7" y1="361.21" x2="463.7" y2="363.21" stroke="#a9c3e6" stroke-width="1.0"/>
<line x1="461.8" y1="361.21" x2="465.6" y2="361.21" stroke="#a9c3e6" stroke-width="1.0"/>
<line x1="461.8" y1="363.21" x2="465.6" y2="363.21" stroke="#a9c3e6" stroke-width="1.0"/>
<line x1="489.9" y1="362.08" x2="489.9" y2="363.33" stroke="#a9c3e6" stroke-width="1.0"/>
<line x1="488" y1="362.08" x2="491.8" y2="362.08" stroke="#a9c3e6" stroke-width="1.0"/>
<line x1="488" y1="363.33" x2="491.8" y2="363.33" stroke="#a9c3e6" stroke-width="1.0"/>
<line x1="306.5" y1="292.51" x2="306.5" y2="302.5" stroke="#e4a060" stroke-width="1.0"/>
<line x1="304.6" y1="292.51" x2="308.4" y2="292.51" stroke="#e4a060" stroke-width="1.0"/>
<line x1="304.6" y1="302.5" x2="308.4" y2="302.5" stroke="#e4a060" stroke-width="1.0"/>
<line x1="332.7" y1="313.12" x2="332.7" y2="323.11" stroke="#e4a060" stroke-width="1.0"/>
<line x1="330.8" y1="313.12" x2="334.6" y2="313.12" stroke="#e4a060" stroke-width="1.0"/>
<line x1="330.8" y1="323.11" x2="334.6" y2="323.11" stroke="#e4a060" stroke-width="1.0"/>
<line x1="358.9" y1="325.61" x2="358.9" y2="333.11" stroke="#e4a060" stroke-width="1.0"/>
<line x1="357" y1="325.61" x2="360.8" y2="325.61" stroke="#e4a060" stroke-width="1.0"/>
<line x1="357" y1="333.11" x2="360.8" y2="333.11" stroke="#e4a060" stroke-width="1.0"/>
<line x1="385.1" y1="340.6" x2="385.1" y2="345.6" stroke="#e4a060" stroke-width="1.0"/>
<line x1="383.2" y1="340.6" x2="387" y2="340.6" stroke="#e4a060" stroke-width="1.0"/>
<line x1="383.2" y1="345.6" x2="387" y2="345.6" stroke="#e4a060" stroke-width="1.0"/>
<line x1="411.3" y1="346.22" x2="411.3" y2="351.22" stroke="#e4a060" stroke-width="1.0"/>
<line x1="409.4" y1="346.22" x2="413.2" y2="346.22" stroke="#e4a060" stroke-width="1.0"/>
<line x1="409.4" y1="351.22" x2="413.2" y2="351.22" stroke="#e4a060" stroke-width="1.0"/>
<line x1="437.5" y1="353.46" x2="437.5" y2="355.96" stroke="#e4a060" stroke-width="1.0"/>
<line x1="435.6" y1="353.46" x2="439.4" y2="353.46" stroke="#e4a060" stroke-width="1.0"/>
<line x1="435.6" y1="355.96" x2="439.4" y2="355.96" stroke="#e4a060" stroke-width="1.0"/>
<line x1="463.7" y1="356.21" x2="463.7" y2="358.71" stroke="#e4a060" stroke-width="1.0"/>
<line x1="461.8" y1="356.21" x2="465.6" y2="356.21" stroke="#e4a060" stroke-width="1.0"/>
<line x1="461.8" y1="358.71" x2="465.6" y2="358.71" stroke="#e4a060" stroke-width="1.0"/>
<line x1="489.9" y1="361.83" x2="489.9" y2="364.33" stroke="#e4a060" stroke-width="1.0"/>
<line x1="488" y1="361.83" x2="491.8" y2="361.83" stroke="#e4a060" stroke-width="1.0"/>
<line x1="488" y1="364.33" x2="491.8" y2="364.33" stroke="#e4a060" stroke-width="1.0"/>
<line x1="306.5" y1="293.01" x2="306.5" y2="303" stroke="#78b458" stroke-width="1.0"/>
<line x1="304.6" y1="293.01" x2="308.4" y2="293.01" stroke="#78b458" stroke-width="1.0"/>
<line x1="304.6" y1="303" x2="308.4" y2="303" stroke="#78b458" stroke-width="1.0"/>
<line x1="332.7" y1="313.62" x2="332.7" y2="323.61" stroke="#78b458" stroke-width="1.0"/>
<line x1="330.8" y1="313.62" x2="334.6" y2="313.62" stroke="#78b458" stroke-width="1.0"/>
<line x1="330.8" y1="323.61" x2="334.6" y2="323.61" stroke="#78b458" stroke-width="1.0"/>
<line x1="358.9" y1="326.49" x2="358.9" y2="333.98" stroke="#78b458" stroke-width="1.0"/>
<line x1="357" y1="326.49" x2="360.8" y2="326.49" stroke="#78b458" stroke-width="1.0"/>
<line x1="357" y1="333.98" x2="360.8" y2="333.98" stroke="#78b458" stroke-width="1.0"/>
<line x1="385.1" y1="342.1" x2="385.1" y2="347.09" stroke="#78b458" stroke-width="1.0"/>
<line x1="383.2" y1="342.1" x2="387" y2="342.1" stroke="#78b458" stroke-width="1.0"/>
<line x1="383.2" y1="347.09" x2="387" y2="347.09" stroke="#78b458" stroke-width="1.0"/>
<line x1="411.3" y1="347.22" x2="411.3" y2="352.22" stroke="#78b458" stroke-width="1.0"/>
<line x1="409.4" y1="347.22" x2="413.2" y2="347.22" stroke="#78b458" stroke-width="1.0"/>
<line x1="409.4" y1="352.22" x2="413.2" y2="352.22" stroke="#78b458" stroke-width="1.0"/>
<line x1="437.5" y1="353.71" x2="437.5" y2="356.21" stroke="#78b458" stroke-width="1.0"/>
<line x1="435.6" y1="353.71" x2="439.4" y2="353.71" stroke="#78b458" stroke-width="1.0"/>
<line x1="435.6" y1="356.21" x2="439.4" y2="356.21" stroke="#78b458" stroke-width="1.0"/>
<line x1="463.7" y1="356.46" x2="463.7" y2="358.96" stroke="#78b458" stroke-width="1.0"/>
<line x1="461.8" y1="356.46" x2="465.6" y2="356.46" stroke="#78b458" stroke-width="1.0"/>
<line x1="461.8" y1="358.96" x2="465.6" y2="358.96" stroke="#78b458" stroke-width="1.0"/>
<line x1="489.9" y1="362.21" x2="489.9" y2="364.71" stroke="#78b458" stroke-width="1.0"/>
<line x1="488" y1="362.21" x2="491.8" y2="362.21" stroke="#78b458" stroke-width="1.0"/>
<line x1="488" y1="364.71" x2="491.8" y2="364.71" stroke="#78b458" stroke-width="1.0"/>
<line x1="306.5" y1="306.38" x2="306.5" y2="316.37" stroke="#54468e" stroke-width="1.0"/>
<line x1="304.6" y1="306.38" x2="308.4" y2="306.38" stroke="#54468e" stroke-width="1.0"/>
<line x1="304.6" y1="316.37" x2="308.4" y2="316.37" stroke="#54468e" stroke-width="1.0"/>
<line x1="332.7" y1="324.61" x2="332.7" y2="332.11" stroke="#54468e" stroke-width="1.0"/>
<line x1="330.8" y1="324.61" x2="334.6" y2="324.61" stroke="#54468e" stroke-width="1.0"/>
<line x1="330.8" y1="332.11" x2="334.6" y2="332.11" stroke="#54468e" stroke-width="1.0"/>
<line x1="358.9" y1="331.73" x2="358.9" y2="339.23" stroke="#54468e" stroke-width="1.0"/>
<line x1="357" y1="331.73" x2="360.8" y2="331.73" stroke="#54468e" stroke-width="1.0"/>
<line x1="357" y1="339.23" x2="360.8" y2="339.23" stroke="#54468e" stroke-width="1.0"/>
<line x1="385.1" y1="336.48" x2="385.1" y2="341.47" stroke="#54468e" stroke-width="1.0"/>
<line x1="383.2" y1="336.48" x2="387" y2="336.48" stroke="#54468e" stroke-width="1.0"/>
<line x1="383.2" y1="341.47" x2="387" y2="341.47" stroke="#54468e" stroke-width="1.0"/>
<line x1="411.3" y1="347.09" x2="411.3" y2="350.84" stroke="#54468e" stroke-width="1.0"/>
<line x1="409.4" y1="347.09" x2="413.2" y2="347.09" stroke="#54468e" stroke-width="1.0"/>
<line x1="409.4" y1="350.84" x2="413.2" y2="350.84" stroke="#54468e" stroke-width="1.0"/>
<line x1="437.5" y1="353.21" x2="437.5" y2="355.71" stroke="#54468e" stroke-width="1.0"/>
<line x1="435.6" y1="353.21" x2="439.4" y2="353.21" stroke="#54468e" stroke-width="1.0"/>
<line x1="435.6" y1="355.71" x2="439.4" y2="355.71" stroke="#54468e" stroke-width="1.0"/>
<line x1="463.7" y1="356.21" x2="463.7" y2="358.71" stroke="#54468e" stroke-width="1.0"/>
<line x1="461.8" y1="356.21" x2="465.6" y2="356.21" stroke="#54468e" stroke-width="1.0"/>
<line x1="461.8" y1="358.71" x2="465.6" y2="358.71" stroke="#54468e" stroke-width="1.0"/>
<line x1="489.9" y1="362.46" x2="489.9" y2="364.95" stroke="#54468e" stroke-width="1.0"/>
<line x1="488" y1="362.46" x2="491.8" y2="362.46" stroke="#54468e" stroke-width="1.0"/>
<line x1="488" y1="364.95" x2="491.8" y2="364.95" stroke="#54468e" stroke-width="1.0"/>
<line x1="306.5" y1="273.78" x2="306.5" y2="291.26" stroke="#909090" stroke-width="1.0"/>
<line x1="304.6" y1="273.78" x2="308.4" y2="273.78" stroke="#909090" stroke-width="1.0"/>
<line x1="304.6" y1="291.26" x2="308.4" y2="291.26" stroke="#909090" stroke-width="1.0"/>
<line x1="332.7" y1="301.26" x2="332.7" y2="313.75" stroke="#909090" stroke-width="1.0"/>
<line x1="330.8" y1="301.26" x2="334.6" y2="301.26" stroke="#909090" stroke-width="1.0"/>
<line x1="330.8" y1="313.75" x2="334.6" y2="313.75" stroke="#909090" stroke-width="1.0"/>
<line x1="358.9" y1="319.49" x2="358.9" y2="329.48" stroke="#909090" stroke-width="1.0"/>
<line x1="357" y1="319.49" x2="360.8" y2="319.49" stroke="#909090" stroke-width="1.0"/>
<line x1="357" y1="329.48" x2="360.8" y2="329.48" stroke="#909090" stroke-width="1.0"/>
<line x1="385.1" y1="332.98" x2="385.1" y2="337.98" stroke="#909090" stroke-width="1.0"/>
<line x1="383.2" y1="332.98" x2="387" y2="332.98" stroke="#909090" stroke-width="1.0"/>
<line x1="383.2" y1="337.98" x2="387" y2="337.98" stroke="#909090" stroke-width="1.0"/>
<line x1="411.3" y1="342.22" x2="411.3" y2="347.22" stroke="#909090" stroke-width="1.0"/>
<line x1="409.4" y1="342.22" x2="413.2" y2="342.22" stroke="#909090" stroke-width="1.0"/>
<line x1="409.4" y1="347.22" x2="413.2" y2="347.22" stroke="#909090" stroke-width="1.0"/>
<line x1="437.5" y1="350.34" x2="437.5" y2="354.09" stroke="#909090" stroke-width="1.0"/>
<line x1="435.6" y1="350.34" x2="439.4" y2="350.34" stroke="#909090" stroke-width="1.0"/>
<line x1="435.6" y1="354.09" x2="439.4" y2="354.09" stroke="#909090" stroke-width="1.0"/>
<line x1="463.7" y1="353.96" x2="463.7" y2="356.46" stroke="#909090" stroke-width="1.0"/>
<line x1="461.8" y1="353.96" x2="465.6" y2="353.96" stroke="#909090" stroke-width="1.0"/>
<line x1="461.8" y1="356.46" x2="465.6" y2="356.46" stroke="#909090" stroke-width="1.0"/>
<line x1="489.9" y1="361.46" x2="489.9" y2="363.96" stroke="#909090" stroke-width="1.0"/>
<line x1="488" y1="361.46" x2="491.8" y2="361.46" stroke="#909090" stroke-width="1.0"/>
<line x1="488" y1="363.96" x2="491.8" y2="363.96" stroke="#909090" stroke-width="1.0"/>
<line x1="306.5" y1="224.82" x2="306.5" y2="252.3" stroke="#d05a50" stroke-width="1.0"/>
<line x1="304.6" y1="224.82" x2="308.4" y2="224.82" stroke="#d05a50" stroke-width="1.0"/>
<line x1="304.6" y1="252.3" x2="308.4" y2="252.3" stroke="#d05a50" stroke-width="1.0"/>
<line x1="332.7" y1="272.15" x2="332.7" y2="290.89" stroke="#d05a50" stroke-width="1.0"/>
<line x1="330.8" y1="272.15" x2="334.6" y2="272.15" stroke="#d05a50" stroke-width="1.0"/>
<line x1="330.8" y1="290.89" x2="334.6" y2="290.89" stroke="#d05a50" stroke-width="1.0"/>
<line x1="358.9" y1="299.63" x2="358.9" y2="312.12" stroke="#d05a50" stroke-width="1.0"/>
<line x1="357" y1="299.63" x2="360.8" y2="299.63" stroke="#d05a50" stroke-width="1.0"/>
<line x1="357" y1="312.12" x2="360.8" y2="312.12" stroke="#d05a50" stroke-width="1.0"/>
<line x1="385.1" y1="320.62" x2="385.1" y2="330.61" stroke="#d05a50" stroke-width="1.0"/>
<line x1="383.2" y1="320.62" x2="387" y2="320.62" stroke="#d05a50" stroke-width="1.0"/>
<line x1="383.2" y1="330.61" x2="387" y2="330.61" stroke="#d05a50" stroke-width="1.0"/>
<line x1="411.3" y1="337.1" x2="411.3" y2="339.6" stroke="#d05a50" stroke-width="1.0"/>
<line x1="409.4" y1="337.1" x2="413.2" y2="337.1" stroke="#d05a50" stroke-width="1.0"/>
<line x1="409.4" y1="339.6" x2="413.2" y2="339.6" stroke="#d05a50" stroke-width="1.0"/>
<line x1="437.5" y1="345.1" x2="437.5" y2="347.59" stroke="#d05a50" stroke-width="1.0"/>
<line x1="435.6" y1="345.1" x2="439.4" y2="345.1" stroke="#d05a50" stroke-width="1.0"/>
<line x1="435.6" y1="347.59" x2="439.4" y2="347.59" stroke="#d05a50" stroke-width="1.0"/>
<line x1="463.7" y1="349.34" x2="463.7" y2="353.09" stroke="#d05a50" stroke-width="1.0"/>
<line x1="461.8" y1="349.34" x2="465.6" y2="349.34" stroke="#d05a50" stroke-width="1.0"/>
<line x1="461.8" y1="353.09" x2="465.6" y2="353.09" stroke="#d05a50" stroke-width="1.0"/>
<line x1="489.9" y1="361.33" x2="489.9" y2="363.83" stroke="#d05a50" stroke-width="1.0"/>
<line x1="488" y1="361.33" x2="491.8" y2="361.33" stroke="#d05a50" stroke-width="1.0"/>
<line x1="488" y1="363.83" x2="491.8" y2="363.83" stroke="#d05a50" stroke-width="1.0"/>
<polyline fill="none" stroke="#a9c3e6" stroke-width="1.5" stroke-linejoin="round" points="306.5,362.21 332.7,361.83 358.9,362.21 385.1,362.46 411.3,363.33 437.5,362.46 463.7,362.21 489.9,362.71"/>
<circle cx="306.5" cy="362.21" r="1.35" fill="#a9c3e6"/>
<circle cx="332.7" cy="361.83" r="1.35" fill="#a9c3e6"/>
<circle cx="358.9" cy="362.21" r="1.35" fill="#a9c3e6"/>
<circle cx="385.1" cy="362.46" r="1.35" fill="#a9c3e6"/>
<circle cx="411.3" cy="363.33" r="1.35" fill="#a9c3e6"/>
<circle cx="437.5" cy="362.46" r="1.35" fill="#a9c3e6"/>
<circle cx="463.7" cy="362.21" r="1.35" fill="#a9c3e6"/>
<circle cx="489.9" cy="362.71" r="1.35" fill="#a9c3e6"/>
<polyline fill="none" stroke="#e0883a" stroke-width="1.5" stroke-linejoin="round" points="306.5,297.51 332.7,318.12 358.9,329.36 385.1,343.1 411.3,348.72 437.5,354.71 463.7,357.46 489.9,363.08"/>
<circle cx="306.5" cy="297.51" r="1.35" fill="#e0883a"/>
<circle cx="332.7" cy="318.12" r="1.35" fill="#e0883a"/>
<circle cx="358.9" cy="329.36" r="1.35" fill="#e0883a"/>
<circle cx="385.1" cy="343.1" r="1.35" fill="#e0883a"/>
<circle cx="411.3" cy="348.72" r="1.35" fill="#e0883a"/>
<circle cx="437.5" cy="354.71" r="1.35" fill="#e0883a"/>
<circle cx="463.7" cy="357.46" r="1.35" fill="#e0883a"/>
<circle cx="489.9" cy="363.08" r="1.35" fill="#e0883a"/>
<polyline fill="none" stroke="#5ea434" stroke-width="1.5" stroke-linejoin="round" points="306.5,298.01 332.7,318.62 358.9,330.23 385.1,344.6 411.3,349.72 437.5,354.96 463.7,357.71 489.9,363.46"/>
<circle cx="306.5" cy="298.01" r="1.35" fill="#5ea434"/>
<circle cx="332.7" cy="318.62" r="1.35" fill="#5ea434"/>
<circle cx="358.9" cy="330.23" r="1.35" fill="#5ea434"/>
<circle cx="385.1" cy="344.6" r="1.35" fill="#5ea434"/>
<circle cx="411.3" cy="349.72" r="1.35" fill="#5ea434"/>
<circle cx="437.5" cy="354.96" r="1.35" fill="#5ea434"/>
<circle cx="463.7" cy="357.71" r="1.35" fill="#5ea434"/>
<circle cx="489.9" cy="363.46" r="1.35" fill="#5ea434"/>
<polyline fill="none" stroke="#42327e" stroke-width="1.5" stroke-linejoin="round" points="306.5,311.37 332.7,328.36 358.9,335.48 385.1,338.98 411.3,348.97 437.5,354.46 463.7,357.46 489.9,363.71"/>
<circle cx="306.5" cy="311.37" r="1.35" fill="#42327e"/>
<circle cx="332.7" cy="328.36" r="1.35" fill="#42327e"/>
<circle cx="358.9" cy="335.48" r="1.35" fill="#42327e"/>
<circle cx="385.1" cy="338.98" r="1.35" fill="#42327e"/>
<circle cx="411.3" cy="348.97" r="1.35" fill="#42327e"/>
<circle cx="437.5" cy="354.46" r="1.35" fill="#42327e"/>
<circle cx="463.7" cy="357.46" r="1.35" fill="#42327e"/>
<circle cx="489.9" cy="363.71" r="1.35" fill="#42327e"/>
<polyline fill="none" stroke="#7d7d7d" stroke-width="1.5" stroke-linejoin="round" points="306.5,282.52 332.7,307.5 358.9,324.49 385.1,335.48 411.3,344.72 437.5,352.22 463.7,355.21 489.9,362.71"/>
<circle cx="306.5" cy="282.52" r="1.35" fill="#7d7d7d"/>
<circle cx="332.7" cy="307.5" r="1.35" fill="#7d7d7d"/>
<circle cx="358.9" cy="324.49" r="1.35" fill="#7d7d7d"/>
<circle cx="385.1" cy="335.48" r="1.35" fill="#7d7d7d"/>
<circle cx="411.3" cy="344.72" r="1.35" fill="#7d7d7d"/>
<circle cx="437.5" cy="352.22" r="1.35" fill="#7d7d7d"/>
<circle cx="463.7" cy="355.21" r="1.35" fill="#7d7d7d"/>
<circle cx="489.9" cy="362.71" r="1.35" fill="#7d7d7d"/>
<polyline fill="none" stroke="#c42c20" stroke-width="1.5" stroke-linejoin="round" points="306.5,238.56 332.7,281.52 358.9,305.88 385.1,325.61 411.3,338.35 437.5,346.34 463.7,351.22 489.9,362.58"/>
<circle cx="306.5" cy="238.56" r="1.35" fill="#c42c20"/>
<circle cx="332.7" cy="281.52" r="1.35" fill="#c42c20"/>
<circle cx="358.9" cy="305.88" r="1.35" fill="#c42c20"/>
<circle cx="385.1" cy="325.61" r="1.35" fill="#c42c20"/>
<circle cx="411.3" cy="338.35" r="1.35" fill="#c42c20"/>
<circle cx="437.5" cy="346.34" r="1.35" fill="#c42c20"/>
<circle cx="463.7" cy="351.22" r="1.35" fill="#c42c20"/>
<circle cx="489.9" cy="362.58" r="1.35" fill="#c42c20"/>
<line x1="302.5" y1="218.4" x2="302.5" y2="371.75" stroke="#1e1e1e" stroke-width="1.1"/>
<line x1="301.95" y1="371.2" x2="507.7" y2="371.2" stroke="#1e1e1e" stroke-width="1.1"/>
<line x1="299.3" y1="371.2" x2="302.5" y2="371.2" stroke="#222" stroke-width="1"/>
<text x="297.5" y="373.8" font-size="7.9" fill="#222" text-anchor="end" textLength="14.3" lengthAdjust="spacingAndGlyphs">0.03</text>
<line x1="299.3" y1="358.71" x2="302.5" y2="358.71" stroke="#222" stroke-width="1"/>
<text x="297.5" y="361.31" font-size="7.9" fill="#222" text-anchor="end" textLength="14.3" lengthAdjust="spacingAndGlyphs">0.04</text>
<line x1="299.3" y1="346.22" x2="302.5" y2="346.22" stroke="#222" stroke-width="1"/>
<text x="297.5" y="348.82" font-size="7.9" fill="#222" text-anchor="end" textLength="14.3" lengthAdjust="spacingAndGlyphs">0.05</text>
<line x1="299.3" y1="333.73" x2="302.5" y2="333.73" stroke="#222" stroke-width="1"/>
<text x="297.5" y="336.33" font-size="7.9" fill="#222" text-anchor="end" textLength="14.3" lengthAdjust="spacingAndGlyphs">0.06</text>
<line x1="299.3" y1="321.24" x2="302.5" y2="321.24" stroke="#222" stroke-width="1"/>
<text x="297.5" y="323.84" font-size="7.9" fill="#222" text-anchor="end" textLength="14.3" lengthAdjust="spacingAndGlyphs">0.07</text>
<line x1="299.3" y1="308.75" x2="302.5" y2="308.75" stroke="#222" stroke-width="1"/>
<text x="297.5" y="311.35" font-size="7.9" fill="#222" text-anchor="end" textLength="14.3" lengthAdjust="spacingAndGlyphs">0.08</text>
<line x1="299.3" y1="296.26" x2="302.5" y2="296.26" stroke="#222" stroke-width="1"/>
<text x="297.5" y="298.86" font-size="7.9" fill="#222" text-anchor="end" textLength="14.3" lengthAdjust="spacingAndGlyphs">0.09</text>
<line x1="299.3" y1="283.77" x2="302.5" y2="283.77" stroke="#222" stroke-width="1"/>
<text x="297.5" y="286.37" font-size="7.9" fill="#222" text-anchor="end" textLength="14.3" lengthAdjust="spacingAndGlyphs">0.10</text>
<line x1="299.3" y1="271.28" x2="302.5" y2="271.28" stroke="#222" stroke-width="1"/>
<text x="297.5" y="273.88" font-size="7.9" fill="#222" text-anchor="end" textLength="14.3" lengthAdjust="spacingAndGlyphs">0.11</text>
<line x1="299.3" y1="258.79" x2="302.5" y2="258.79" stroke="#222" stroke-width="1"/>
<text x="297.5" y="261.39" font-size="7.9" fill="#222" text-anchor="end" textLength="14.3" lengthAdjust="spacingAndGlyphs">0.12</text>
<line x1="299.3" y1="246.3" x2="302.5" y2="246.3" stroke="#222" stroke-width="1"/>
<text x="297.5" y="248.9" font-size="7.9" fill="#222" text-anchor="end" textLength="14.3" lengthAdjust="spacingAndGlyphs">0.13</text>
<line x1="299.3" y1="233.81" x2="302.5" y2="233.81" stroke="#222" stroke-width="1"/>
<text x="297.5" y="236.41" font-size="7.9" fill="#222" text-anchor="end" textLength="14.3" lengthAdjust="spacingAndGlyphs">0.14</text>
<line x1="299.3" y1="221.32" x2="302.5" y2="221.32" stroke="#222" stroke-width="1"/>
<text x="297.5" y="223.92" font-size="7.9" fill="#222" text-anchor="end" textLength="14.3" lengthAdjust="spacingAndGlyphs">0.15</text>
<text x="275.1" y="294.7" font-size="9.4" fill="#222" text-anchor="middle" textLength="120" lengthAdjust="spacingAndGlyphs" transform="rotate(-90 275.1 294.7)" class="md">Ferrozine activity (Abs 562nm)</text>
<text x="343.1" y="382.9" font-size="7.8" fill="#222" textLength="83" lengthAdjust="spacingAndGlyphs">1:2 serial dilution of RBCs</text>
<line x1="429.7" y1="380.9" x2="500" y2="380.9" stroke="#333" stroke-width="1.2"/>
<polygon points="497.5,377.3 505.5,380.9 497.5,384.5 499.4,380.9" fill="#222"/>
<line x1="370.4" y1="229" x2="370.4" y2="286.7" stroke="#222" stroke-width="1.1"/>
<line x1="369.9" y1="286.2" x2="444" y2="286.2" stroke="#222" stroke-width="1.1"/>
<line x1="367.4" y1="231.6" x2="370.4" y2="231.6" stroke="#222" stroke-width="0.9"/>
<line x1="367.4" y1="239.4" x2="370.4" y2="239.4" stroke="#222" stroke-width="0.9"/>
<line x1="367.4" y1="247.2" x2="370.4" y2="247.2" stroke="#222" stroke-width="0.9"/>
<line x1="367.4" y1="255.3" x2="370.4" y2="255.3" stroke="#222" stroke-width="0.9"/>
<line x1="367.4" y1="263.3" x2="370.4" y2="263.3" stroke="#222" stroke-width="0.9"/>
<line x1="367.4" y1="270.9" x2="370.4" y2="270.9" stroke="#222" stroke-width="0.9"/>
<line x1="367.4" y1="278.9" x2="370.4" y2="278.9" stroke="#222" stroke-width="0.9"/>
<line x1="377.3" y1="286.2" x2="377.3" y2="289.2" stroke="#222" stroke-width="0.9"/>
<line x1="389.1" y1="286.2" x2="389.1" y2="289.2" stroke="#222" stroke-width="0.9"/>
<line x1="400.7" y1="286.2" x2="400.7" y2="289.2" stroke="#222" stroke-width="0.9"/>
<line x1="412.3" y1="286.2" x2="412.3" y2="289.2" stroke="#222" stroke-width="0.9"/>
<line x1="424" y1="286.2" x2="424" y2="289.2" stroke="#222" stroke-width="0.9"/>
<line x1="435.6" y1="286.2" x2="435.6" y2="289.2" stroke="#222" stroke-width="0.9"/>
<polyline fill="none" stroke="#222" stroke-width="1" points="377.2,256.7 377.2,227 412.8,227 412.8,231.1"/>
<polyline fill="none" stroke="#222" stroke-width="1" points="384.2,234.2 384.2,231.1 438.2,231.1 438.2,234.2"/>
<circle cx="391.75" cy="223.35" r="1.2" fill="#333"/>
<circle cx="395.1" cy="223.35" r="1.2" fill="#333"/>
<circle cx="398.45" cy="223.35" r="1.2" fill="#333"/>
<circle cx="375" cy="261.8" r="1.25" fill="#42327e"/>
<circle cx="377.2" cy="263.3" r="1.25" fill="#42327e"/>
<circle cx="379.5" cy="265" r="1.25" fill="#42327e"/>
<circle cx="377.5" cy="265.2" r="1.25" fill="#42327e"/>
<circle cx="374.8" cy="263.5" r="1.25" fill="#42327e"/>
<line x1="373.8" y1="262.8" x2="378.5" y2="262.8" stroke="#2a2070" stroke-width="0.8"/>
<line x1="376" y1="265.2" x2="381.5" y2="265.2" stroke="#2a2070" stroke-width="0.8"/>
<path d="M389.5,234.6 L391.3,237.2 L387.7,237.2 Z" fill="#c42c20"/>
<circle cx="387.3" cy="244.1" r="1.7" fill="#c42c20"/>
<circle cx="391.4" cy="244.1" r="1.7" fill="#c42c20"/>
<line x1="389.3" y1="236.5" x2="389.3" y2="245.2" stroke="#222" stroke-width="0.9"/>
<line x1="387.4" y1="236.5" x2="391.2" y2="236.5" stroke="#222" stroke-width="0.9"/>
<line x1="387.4" y1="245.2" x2="391.2" y2="245.2" stroke="#222" stroke-width="0.9"/>
<line x1="386.3" y1="240.8" x2="392.3" y2="240.8" stroke="#222" stroke-width="0.9"/>
<circle cx="400.6" cy="251.4" r="1.3" fill="none" stroke="#666" stroke-width="0.7"/>
<circle cx="400" cy="257.5" r="1.1" fill="#444"/>
<line x1="400.7" y1="252.6" x2="400.7" y2="258.1" stroke="#222" stroke-width="0.9"/>
<line x1="398.9" y1="252.6" x2="402.5" y2="252.6" stroke="#222" stroke-width="0.9"/>
<line x1="398.9" y1="258.1" x2="402.5" y2="258.1" stroke="#222" stroke-width="0.9"/>
<line x1="397.8" y1="255.3" x2="403.6" y2="255.3" stroke="#222" stroke-width="0.9"/>
<path d="M412.1,255.4 L414.1,258.3 L410.1,258.3 Z" fill="#5ea434"/>
<circle cx="409.7" cy="260.3" r="1.6" fill="#5ea434"/>
<circle cx="414.7" cy="260.3" r="1.6" fill="#5ea434"/>
<circle cx="412.2" cy="261" r="1.6" fill="#5ea434"/>
<line x1="412.3" y1="258.3" x2="412.3" y2="261.6" stroke="#222" stroke-width="0.9"/>
<line x1="410.9" y1="258.3" x2="413.7" y2="258.3" stroke="#222" stroke-width="0.9"/>
<line x1="410.9" y1="261.6" x2="413.7" y2="261.6" stroke="#222" stroke-width="0.9"/>
<line x1="409.9" y1="259.6" x2="414.7" y2="259.6" stroke="#222" stroke-width="0.9"/>
<circle cx="421.8" cy="258.6" r="1.3" fill="#e0883a"/>
<circle cx="424" cy="259.4" r="1.3" fill="#e0883a"/>
<circle cx="426.2" cy="260.3" r="1.3" fill="#e0883a"/>
<circle cx="423.5" cy="260.8" r="1.3" fill="#e0883a"/>
<circle cx="427" cy="259.5" r="1.3" fill="#e0883a"/>
<line x1="421" y1="259.7" x2="427.5" y2="259.7" stroke="#8a4a10" stroke-width="0.7"/>
<line x1="432.2" y1="279.8" x2="438.5" y2="279.8" stroke="#222" stroke-width="0.9"/>
<circle cx="434.9" cy="279.8" r="1.5" fill="#a9c3e6"/>
<line x1="448.9" y1="236.1" x2="459.2" y2="236.1" stroke="#42327e" stroke-width="1.3"/>
<text x="461.8" y="238.5" font-size="7" fill="#222" textLength="8.7" lengthAdjust="spacingAndGlyphs">B6</text>
<line x1="448.9" y1="243.95" x2="459.2" y2="243.95" stroke="#c42c20" stroke-width="1.3"/>
<text x="461.8" y="246.35" font-size="7" fill="#222" textLength="12.8" lengthAdjust="spacingAndGlyphs">FVB</text>
<line x1="448.9" y1="251.8" x2="459.2" y2="251.8" stroke="#7d7d7d" stroke-width="1.3"/>
<text x="461.8" y="254.2" font-size="7" fill="#222" textLength="7.6" lengthAdjust="spacingAndGlyphs">F1</text>
<line x1="448.9" y1="259.65" x2="459.2" y2="259.65" stroke="#5ea434" stroke-width="1.3"/>
<text x="461.8" y="262.05" font-size="7" fill="#222" textLength="44.8" lengthAdjust="spacingAndGlyphs">LCB-Steap3(A)</text>
<line x1="448.9" y1="267.5" x2="459.2" y2="267.5" stroke="#e0883a" stroke-width="1.3"/>
<text x="461.8" y="269.9" font-size="7" fill="#222" textLength="44.8" lengthAdjust="spacingAndGlyphs">LCB-Steap3(C)</text>
<line x1="448.9" y1="275.35" x2="459.2" y2="275.35" stroke="#a9c3e6" stroke-width="1.3"/>
<text x="461.8" y="277.75" font-size="7" fill="#222" textLength="26.7" lengthAdjust="spacingAndGlyphs">No RBCs</text>
<line x1="300.5" y1="433.5" x2="300.5" y2="536.65" stroke="#1e1e1e" stroke-width="1.1"/>
<line x1="299.95" y1="536.1" x2="453.4" y2="536.1" stroke="#1e1e1e" stroke-width="1.1"/>
<line x1="297.3" y1="535.75" x2="300.5" y2="535.75" stroke="#222" stroke-width="1"/>
<text x="295" y="538.95" font-size="7.8" fill="#222" text-anchor="end" textLength="4.4" lengthAdjust="spacingAndGlyphs">0</text>
<line x1="297.3" y1="519" x2="300.5" y2="519" stroke="#222" stroke-width="1"/>
<text x="295" y="522.2" font-size="7.8" fill="#222" text-anchor="end" textLength="8.3" lengthAdjust="spacingAndGlyphs">20</text>
<line x1="297.3" y1="502.25" x2="300.5" y2="502.25" stroke="#222" stroke-width="1"/>
<text x="295" y="505.45" font-size="7.8" fill="#222" text-anchor="end" textLength="8.3" lengthAdjust="spacingAndGlyphs">40</text>
<line x1="297.3" y1="485.5" x2="300.5" y2="485.5" stroke="#222" stroke-width="1"/>
<text x="295" y="488.7" font-size="7.8" fill="#222" text-anchor="end" textLength="8.3" lengthAdjust="spacingAndGlyphs">60</text>
<line x1="297.3" y1="468.75" x2="300.5" y2="468.75" stroke="#222" stroke-width="1"/>
<text x="295" y="471.95" font-size="7.8" fill="#222" text-anchor="end" textLength="8.3" lengthAdjust="spacingAndGlyphs">80</text>
<line x1="297.3" y1="452" x2="300.5" y2="452" stroke="#222" stroke-width="1"/>
<text x="295" y="455.2" font-size="7.8" fill="#222" text-anchor="end" textLength="12.2" lengthAdjust="spacingAndGlyphs">100</text>
<line x1="297.3" y1="435.25" x2="300.5" y2="435.25" stroke="#222" stroke-width="1"/>
<text x="295" y="438.45" font-size="7.8" fill="#222" text-anchor="end" textLength="12.2" lengthAdjust="spacingAndGlyphs">120</text>
<line x1="319.5" y1="536.1" x2="319.5" y2="539.2" stroke="#222" stroke-width="1"/>
<line x1="357.5" y1="536.1" x2="357.5" y2="539.2" stroke="#222" stroke-width="1"/>
<line x1="396" y1="536.1" x2="396" y2="539.2" stroke="#222" stroke-width="1"/>
<line x1="434.2" y1="536.1" x2="434.2" y2="539.2" stroke="#222" stroke-width="1"/>
<text x="319.8" y="549.6" font-size="7.8" fill="#222" text-anchor="middle" textLength="8.4" lengthAdjust="spacingAndGlyphs">B6</text>
<text x="357.8" y="549.6" font-size="7.8" fill="#222" text-anchor="middle" textLength="7.2" lengthAdjust="spacingAndGlyphs">F1</text>
<text x="396.3" y="549.6" font-size="7.8" fill="#222" text-anchor="middle" textLength="23" lengthAdjust="spacingAndGlyphs">LCB(A)</text>
<text x="434.5" y="549.6" font-size="7.8" fill="#222" text-anchor="middle" textLength="23" lengthAdjust="spacingAndGlyphs">LCB(C)</text>
<text x="275.5" y="484.3" font-size="8.6" fill="#222" text-anchor="middle" textLength="79" lengthAdjust="spacingAndGlyphs" transform="rotate(-90 275.5 484.3)">24-hr recoveries (%)</text>
<line x1="320.6" y1="445.3" x2="320.6" y2="462.3" stroke="#2a2a2a" stroke-width="1.0"/>
<line x1="317.6" y1="445.3" x2="323.6" y2="445.3" stroke="#2a2a2a" stroke-width="1.0"/>
<line x1="317.6" y1="462.3" x2="323.6" y2="462.3" stroke="#2a2a2a" stroke-width="1.0"/>
<line x1="317" y1="454.1" x2="324.2" y2="454.1" stroke="#2a2a2a" stroke-width="1.0"/>
<line x1="310.5" y1="445.8" x2="313.9" y2="449.2" stroke="#3e2c80" stroke-width="0.9"/>
<line x1="310.5" y1="449.2" x2="313.9" y2="445.8" stroke="#3e2c80" stroke-width="0.9"/>
<line x1="324.9" y1="446.1" x2="328.3" y2="449.5" stroke="#3e2c80" stroke-width="0.9"/>
<line x1="324.9" y1="449.5" x2="328.3" y2="446.1" stroke="#3e2c80" stroke-width="0.9"/>
<line x1="313.3" y1="452.4" x2="316.7" y2="455.8" stroke="#3e2c80" stroke-width="0.9"/>
<line x1="313.3" y1="455.8" x2="316.7" y2="452.4" stroke="#3e2c80" stroke-width="0.9"/>
<line x1="322.4" y1="454.9" x2="325.8" y2="458.3" stroke="#3e2c80" stroke-width="0.9"/>
<line x1="322.4" y1="458.3" x2="325.8" y2="454.9" stroke="#3e2c80" stroke-width="0.9"/>
<circle cx="315.3" cy="445.3" r="1.65" fill="none" stroke="#3e2c80" stroke-width="0.8"/>
<circle cx="321.9" cy="444.7" r="1.65" fill="none" stroke="#3e2c80" stroke-width="0.8"/>
<circle cx="317.2" cy="449.7" r="1.65" fill="none" stroke="#3e2c80" stroke-width="0.8"/>
<circle cx="319.4" cy="457" r="1.65" fill="none" stroke="#3e2c80" stroke-width="0.8"/>
<circle cx="321.9" cy="451.9" r="1.5" fill="#3e2c80"/>
<circle cx="317.2" cy="462" r="1.5" fill="#3e2c80"/>
<circle cx="322.2" cy="464.2" r="1.5" fill="#3e2c80"/>
<circle cx="320" cy="471.7" r="1.5" fill="#3e2c80"/>
<line x1="358.1" y1="505.5" x2="358.1" y2="515.9" stroke="#2a2a2a" stroke-width="1.0"/>
<line x1="354.9" y1="505.5" x2="361.3" y2="505.5" stroke="#2a2a2a" stroke-width="1.0"/>
<line x1="354.9" y1="515.9" x2="361.3" y2="515.9" stroke="#2a2a2a" stroke-width="1.0"/>
<line x1="354.1" y1="510.7" x2="362.1" y2="510.7" stroke="#2a2a2a" stroke-width="1.0"/>
<line x1="358.5" y1="498.6" x2="361.9" y2="502" stroke="#7a7a7a" stroke-width="0.8"/>
<line x1="358.5" y1="502" x2="361.9" y2="498.6" stroke="#7a7a7a" stroke-width="0.8"/>
<line x1="353.55" y1="501.5" x2="356.95" y2="504.9" stroke="#7a7a7a" stroke-width="0.8"/>
<line x1="353.55" y1="504.9" x2="356.95" y2="501.5" stroke="#7a7a7a" stroke-width="0.8"/>
<line x1="351.2" y1="505.7" x2="354.6" y2="509.1" stroke="#7a7a7a" stroke-width="0.8"/>
<line x1="351.2" y1="509.1" x2="354.6" y2="505.7" stroke="#7a7a7a" stroke-width="0.8"/>
<line x1="361.05" y1="505.7" x2="364.45" y2="509.1" stroke="#7a7a7a" stroke-width="0.8"/>
<line x1="361.05" y1="509.1" x2="364.45" y2="505.7" stroke="#7a7a7a" stroke-width="0.8"/>
<circle cx="346.6" cy="513" r="1.35" fill="#7a7a7a"/>
<circle cx="350.3" cy="513.6" r="1.35" fill="#7a7a7a"/>
<circle cx="354.4" cy="514.5" r="1.35" fill="#7a7a7a"/>
<circle cx="368.2" cy="513.3" r="1.35" fill="#7a7a7a"/>
<circle cx="357.6" cy="517.4" r="1.5" fill="none" stroke="#7a7a7a" stroke-width="0.75"/>
<circle cx="361.3" cy="515.1" r="1.5" fill="none" stroke="#7a7a7a" stroke-width="0.75"/>
<circle cx="364.8" cy="513.9" r="1.5" fill="none" stroke="#7a7a7a" stroke-width="0.75"/>
<circle cx="354.75" cy="488.5" r="1.3" fill="#333"/>
<circle cx="358.2" cy="488.5" r="1.3" fill="#333"/>
<circle cx="361.65" cy="488.5" r="1.3" fill="#333"/>
<line x1="396.4" y1="478.1" x2="396.4" y2="486.4" stroke="#2a2a2a" stroke-width="1.0"/>
<line x1="392.5" y1="478.1" x2="400.3" y2="478.1" stroke="#2a2a2a" stroke-width="1.0"/>
<line x1="392.5" y1="486.4" x2="400.3" y2="486.4" stroke="#2a2a2a" stroke-width="1.0"/>
<line x1="392.2" y1="482.4" x2="400.6" y2="482.4" stroke="#2a2a2a" stroke-width="1.0"/>
<circle cx="386.3" cy="476.9" r="1.6" fill="#56a03a"/>
<circle cx="390.7" cy="478.1" r="1.6" fill="#56a03a"/>
<circle cx="388.7" cy="481.5" r="1.6" fill="#56a03a"/>
<circle cx="400.2" cy="488.75" r="1.6" fill="#56a03a"/>
<circle cx="404.8" cy="477.2" r="1.6" fill="none" stroke="#56a03a" stroke-width="0.8"/>
<circle cx="399.9" cy="479.5" r="1.6" fill="none" stroke="#56a03a" stroke-width="0.8"/>
<circle cx="402.8" cy="483.85" r="1.6" fill="none" stroke="#56a03a" stroke-width="0.8"/>
<circle cx="393.6" cy="483.85" r="1.6" fill="none" stroke="#56a03a" stroke-width="0.8"/>
<line x1="389.4" y1="484.3" x2="392.6" y2="487.5" stroke="#56a03a" stroke-width="0.9"/>
<line x1="389.4" y1="487.5" x2="392.6" y2="484.3" stroke="#56a03a" stroke-width="0.9"/>
<line x1="394" y1="487.7" x2="397.2" y2="490.9" stroke="#56a03a" stroke-width="0.9"/>
<line x1="394" y1="490.9" x2="397.2" y2="487.7" stroke="#56a03a" stroke-width="0.9"/>
<line x1="395.1" y1="478.5" x2="398.3" y2="481.7" stroke="#56a03a" stroke-width="0.9"/>
<line x1="395.1" y1="481.7" x2="398.3" y2="478.5" stroke="#56a03a" stroke-width="0.9"/>
<circle cx="392.55" cy="464.8" r="1.25" fill="#333"/>
<circle cx="396" cy="464.8" r="1.25" fill="#333"/>
<circle cx="399.45" cy="464.8" r="1.25" fill="#333"/>
<line x1="433.9" y1="464.5" x2="433.9" y2="504.8" stroke="#2a2a2a" stroke-width="1.0"/>
<line x1="430.3" y1="464.5" x2="437.5" y2="464.5" stroke="#2a2a2a" stroke-width="1.0"/>
<line x1="430.3" y1="504.8" x2="437.5" y2="504.8" stroke="#2a2a2a" stroke-width="1.0"/>
<line x1="429.4" y1="484.9" x2="438.4" y2="484.9" stroke="#2a2a2a" stroke-width="1.0"/>
<line x1="431.8" y1="452.6" x2="435.2" y2="456" stroke="#d27420" stroke-width="0.95"/>
<line x1="431.8" y1="456" x2="435.2" y2="452.6" stroke="#d27420" stroke-width="0.95"/>
<line x1="427.3" y1="459.1" x2="430.7" y2="462.5" stroke="#d27420" stroke-width="0.95"/>
<line x1="427.3" y1="462.5" x2="430.7" y2="459.1" stroke="#d27420" stroke-width="0.95"/>
<line x1="432.1" y1="459.7" x2="435.5" y2="463.1" stroke="#d27420" stroke-width="0.95"/>
<line x1="432.1" y1="463.1" x2="435.5" y2="459.7" stroke="#d27420" stroke-width="0.95"/>
<line x1="436.5" y1="458.2" x2="439.9" y2="461.6" stroke="#d27420" stroke-width="0.95"/>
<line x1="436.5" y1="461.6" x2="439.9" y2="458.2" stroke="#d27420" stroke-width="0.95"/>
<circle cx="436.1" cy="489.5" r="1.65" fill="none" stroke="#d27420" stroke-width="0.8"/>
<circle cx="431.2" cy="493.6" r="1.65" fill="none" stroke="#d27420" stroke-width="0.8"/>
<circle cx="429" cy="494.9" r="1.65" fill="none" stroke="#d27420" stroke-width="0.8"/>
<circle cx="438.4" cy="494.5" r="1.65" fill="none" stroke="#d27420" stroke-width="0.8"/>
<circle cx="433.4" cy="498.3" r="1.55" fill="#d27420"/>
<circle cx="429" cy="503.4" r="1.55" fill="#d27420"/>
<circle cx="433.4" cy="506.1" r="1.55" fill="#d27420"/>
<circle cx="438.4" cy="504.3" r="1.55" fill="#d27420"/>
<circle cx="430.45" cy="443.9" r="1.25" fill="#333"/>
<circle cx="433.9" cy="443.9" r="1.25" fill="#333"/>
<circle cx="437.35" cy="443.9" r="1.25" fill="#333"/>
</svg></body></html>
